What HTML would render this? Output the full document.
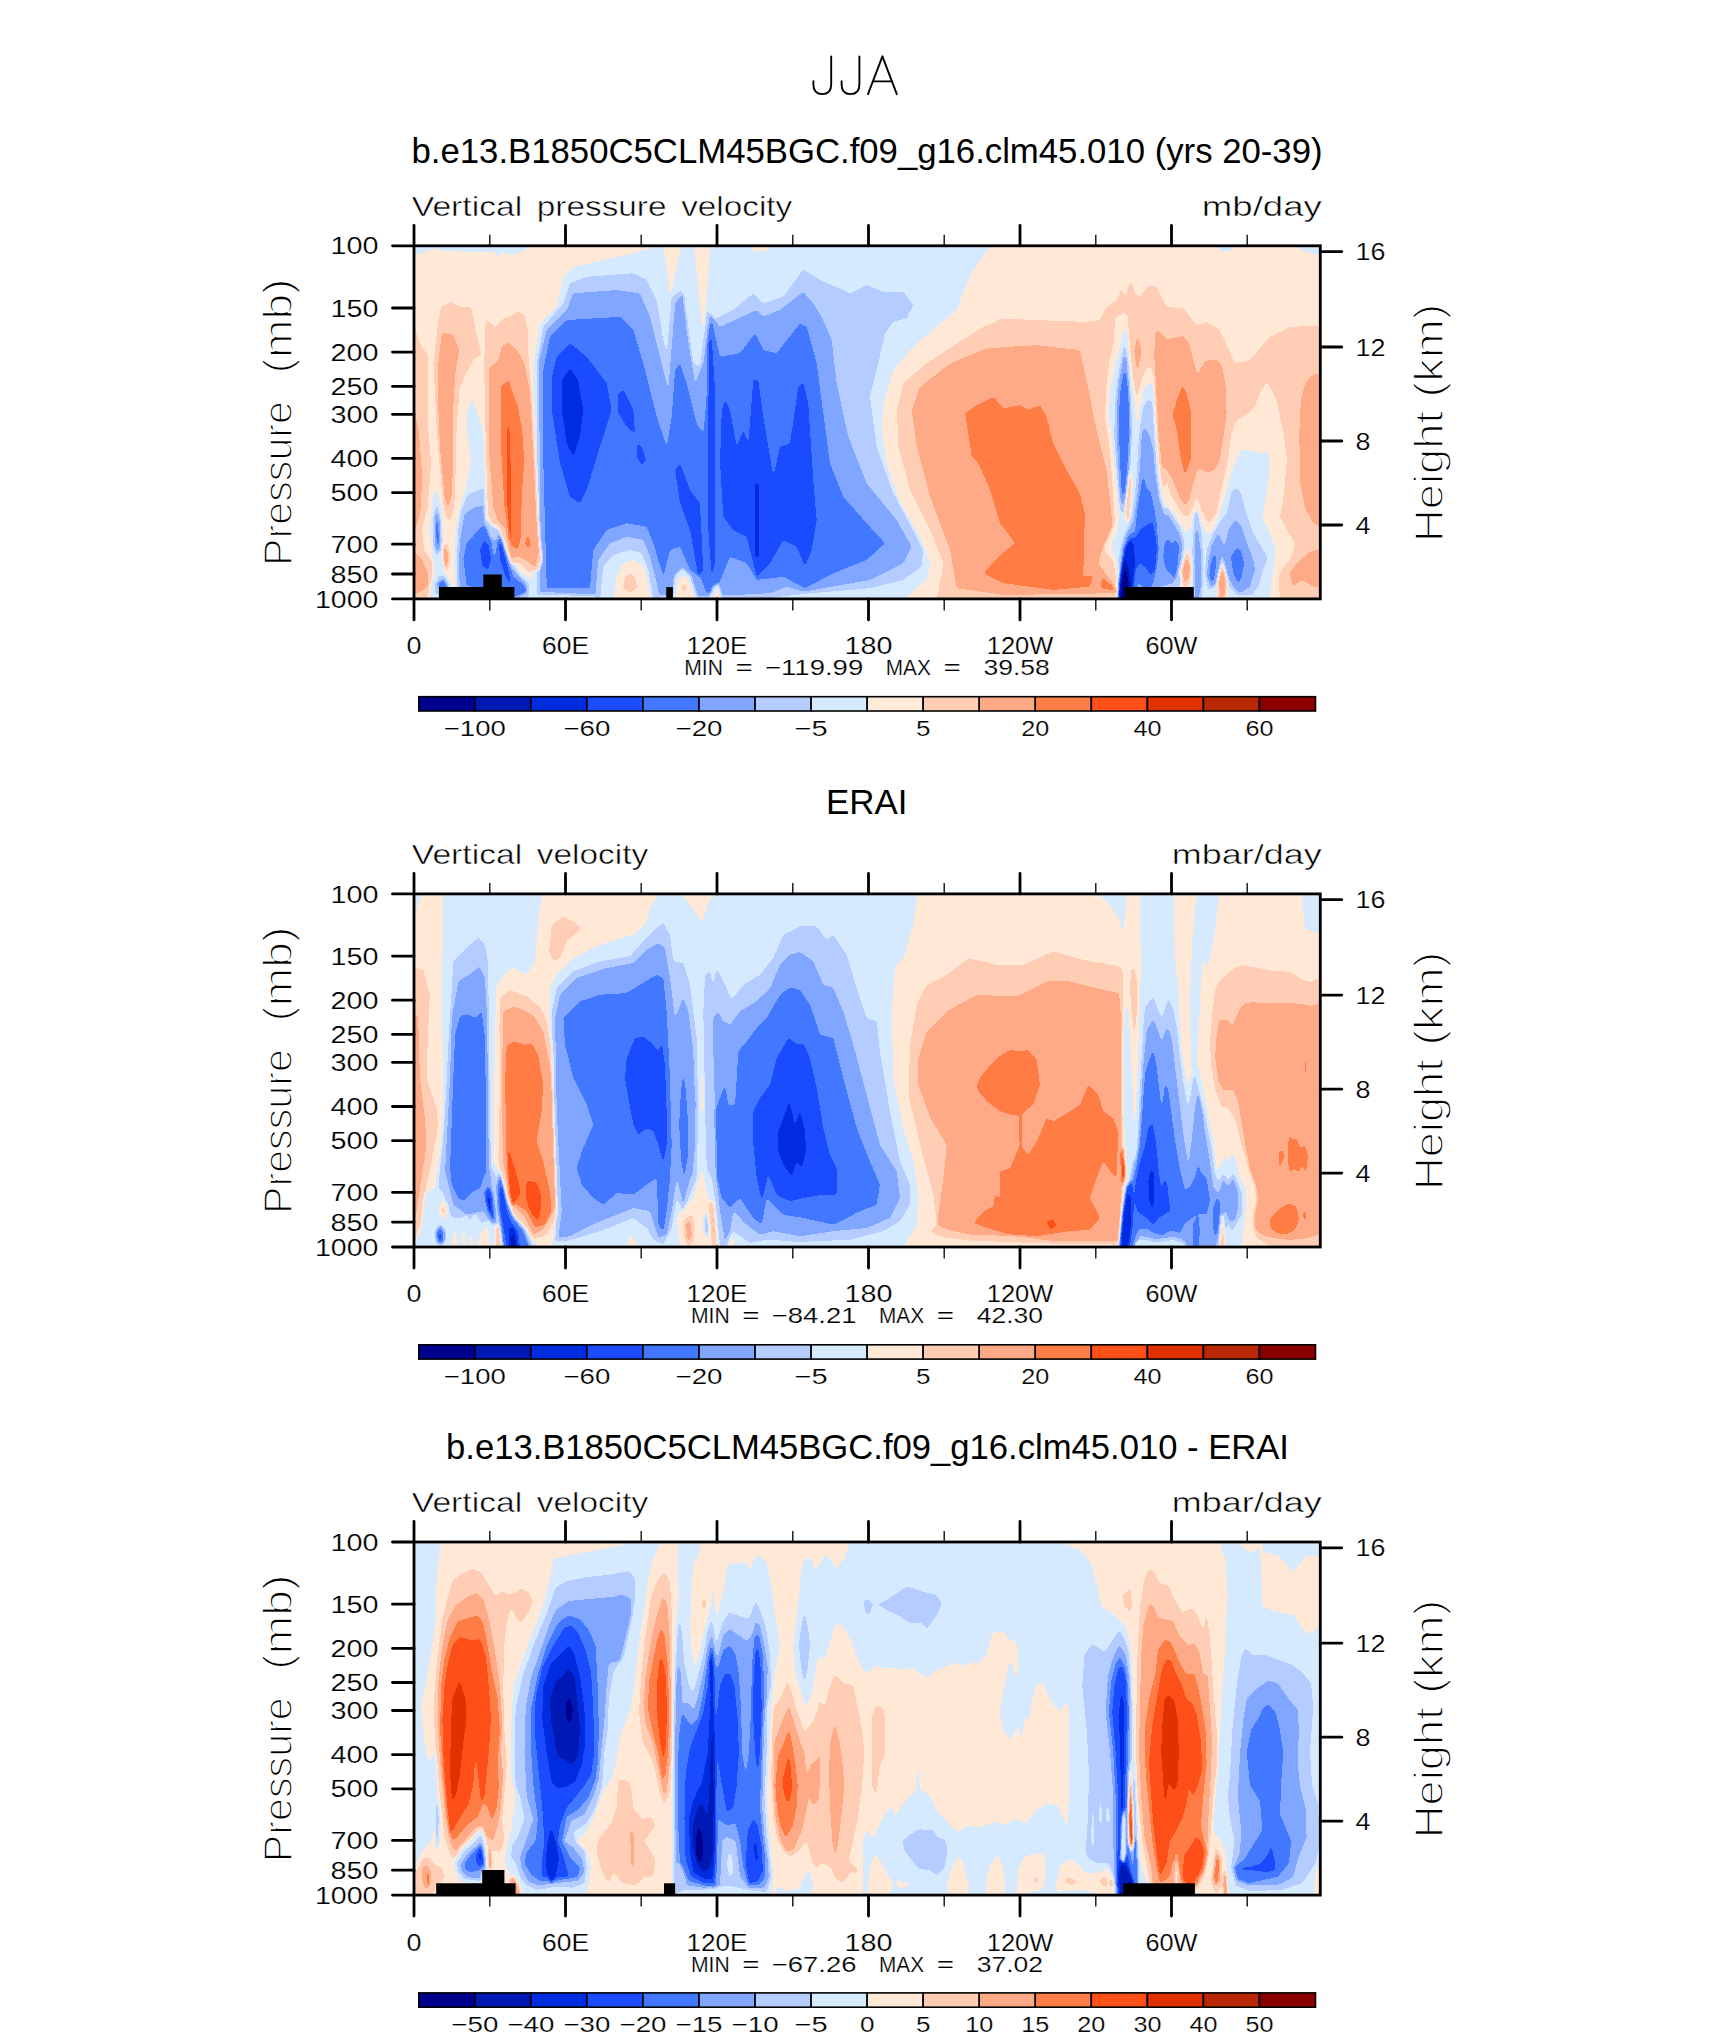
<!DOCTYPE html><html><head><meta charset="utf-8"><title>JJA</title><style>html,body{margin:0;padding:0;background:#fff}svg{display:block}</style></head><body>
<svg width="1710" height="2038" viewBox="0 0 1710 2038">
<rect width="1710" height="2038" fill="#fff"/>
<defs>
<clipPath id="clip0"><rect x="414.0" y="245.8" width="906.3" height="353.1"/></clipPath>
<clipPath id="clip1"><rect x="414.0" y="893.9" width="906.3" height="353.1"/></clipPath>
<clipPath id="clip2"><rect x="414.0" y="1542.0" width="906.3" height="353.1"/></clipPath>
<filter id="q0" filterUnits="userSpaceOnUse" x="374" y="206" width="986" height="433" color-interpolation-filters="sRGB"><feGaussianBlur stdDeviation="1.3"/><feComponentTransfer><feFuncR type="discrete" tableValues="0.0000 0.0000 0.0000 0.1098 0.2588 0.5098 0.7059 0.8392 1.0000 1.0000 1.0000 1.0000 1.0000 0.8784 0.7255 0.5490"/><feFuncG type="discrete" tableValues="0.0000 0.0980 0.1725 0.2980 0.4706 0.6510 0.8000 0.9176 0.9137 0.8039 0.6667 0.4902 0.3137 0.1961 0.1569 0.0000"/><feFuncB type="discrete" tableValues="0.5608 0.7059 0.8784 1.0000 1.0000 1.0000 1.0000 1.0000 0.8431 0.7059 0.5294 0.2745 0.0980 0.0000 0.0196 0.0000"/></feComponentTransfer><feGaussianBlur stdDeviation="0.45"/></filter><filter id="q1" filterUnits="userSpaceOnUse" x="374" y="854" width="986" height="433" color-interpolation-filters="sRGB"><feGaussianBlur stdDeviation="1.3"/><feComponentTransfer><feFuncR type="discrete" tableValues="0.0000 0.0000 0.0000 0.1098 0.2588 0.5098 0.7059 0.8392 1.0000 1.0000 1.0000 1.0000 1.0000 0.8784 0.7255 0.5490"/><feFuncG type="discrete" tableValues="0.0000 0.0980 0.1725 0.2980 0.4706 0.6510 0.8000 0.9176 0.9137 0.8039 0.6667 0.4902 0.3137 0.1961 0.1569 0.0000"/><feFuncB type="discrete" tableValues="0.5608 0.7059 0.8784 1.0000 1.0000 1.0000 1.0000 1.0000 0.8431 0.7059 0.5294 0.2745 0.0980 0.0000 0.0196 0.0000"/></feComponentTransfer><feGaussianBlur stdDeviation="0.45"/></filter><filter id="q2" filterUnits="userSpaceOnUse" x="374" y="1502" width="986" height="433" color-interpolation-filters="sRGB"><feGaussianBlur stdDeviation="1.3"/><feComponentTransfer><feFuncR type="discrete" tableValues="0.0000 0.0000 0.0000 0.1098 0.2588 0.5098 0.7059 0.8392 1.0000 1.0000 1.0000 1.0000 1.0000 0.8784 0.7255 0.5490"/><feFuncG type="discrete" tableValues="0.0000 0.0980 0.1725 0.2980 0.4706 0.6510 0.8000 0.9176 0.9137 0.8039 0.6667 0.4902 0.3137 0.1961 0.1569 0.0000"/><feFuncB type="discrete" tableValues="0.5608 0.7059 0.8784 1.0000 1.0000 1.0000 1.0000 1.0000 0.8431 0.7059 0.5294 0.2745 0.0980 0.0000 0.0196 0.0000"/></feComponentTransfer><feGaussianBlur stdDeviation="0.45"/></filter>
</defs>
<g fill="none" stroke="#000" stroke-width="1.9" stroke-linecap="round" stroke-linejoin="round"><path d="M831.2 56.5V84.5c0 6.3-3.3 9.6-8.9 9.6s-8.9-3.3-8.9-9.6v-3.3"/><path d="M859.4 56.5V84.5c0 6.3-3.3 9.6-8.9 9.6s-8.9-3.3-8.9-9.6v-3.3"/><path d="M868 94.2L882.4 56.3L896.8 94.2M873.2 81.4H891.6"/></g>
<text x="411.5" y="162.7" font-family="Liberation Sans, sans-serif" font-size="34.5" text-anchor="start" textLength="911.0" lengthAdjust="spacingAndGlyphs"  xml:space="preserve">b.e13.B1850C5CLM45BGC.f09_g16.clm45.010 (yrs 20-39)</text>
<text x="866.7" y="814.3" font-family="Liberation Sans, sans-serif" font-size="34.5" text-anchor="middle" textLength="81.5" lengthAdjust="spacingAndGlyphs"  xml:space="preserve">ERAI</text>
<text x="446.0" y="1459.0" font-family="Liberation Sans, sans-serif" font-size="34.5" text-anchor="start" textLength="843.0" lengthAdjust="spacingAndGlyphs"  xml:space="preserve">b.e13.B1850C5CLM45BGC.f09_g16.clm45.010 - ERAI</text>
<g clip-path="url(#clip0)"><g filter="url(#q0)">
<rect x="374.0" y="205.8" width="986.3" height="433.1" fill="#878787"/>
<path d="M531.7 600.0L532.7 463.3L533.3 363.3L540.0 323.3L556.7 306.7L563.3 276.7L573.3 266.7L633.3 253.3L666.7 243.3L800.0 243.3L993.3 243.3L980.0 260.0L970.0 276.7L961.7 296.7L956.7 310.0L936.7 326.7L916.7 343.3L893.3 370.0L883.3 403.3L881.7 430.0L886.7 463.3L900.0 503.3L920.0 536.7L930.0 563.3L926.7 580.0L910.0 593.3L906.7 600.0Z" fill="#787878"/>
<path d="M411.1 243.3L533.3 243.3L524.4 250.4L511.1 254.9L504.4 252.2L497.8 256.2L493.3 252.2L444.4 251.1L433.3 248.2L422.2 253.3L411.1 254.9Z" fill="#787878"/>
<path d="M662.7 243.3L682.3 243.3L676.0 270.0L670.7 296.7L666.7 270.0Z" fill="#878787"/>
<path d="M694.3 243.3L710.7 243.3L708.7 266.7L704.0 336.7L699.0 296.7L695.7 263.3Z" fill="#878787"/>
<path d="M750.0 243.3L773.3 243.3L766.7 250.7L753.3 252.0Z" fill="#878787"/>
<path d="M536.7 595.0L536.7 363.3L543.3 326.7L563.3 303.3L570.0 283.3L586.7 276.7L633.3 273.3L646.7 280.0L656.7 300.0L663.3 340.0L666.7 353.3L671.7 296.7L681.7 290.0L686.7 316.7L693.3 363.3L700.0 366.7L706.7 310.0L713.3 320.0L733.3 310.0L753.3 293.3L763.3 303.3L783.3 296.7L803.3 269.3L820.0 280.0L850.0 293.3L866.7 285.0L883.3 291.7L903.3 291.7L913.3 305.0L906.7 318.3L893.3 321.7L885.0 333.3L878.3 363.3L870.0 396.7L876.7 446.7L893.3 493.3L913.3 530.0L923.3 550.0L921.7 566.7L903.3 580.0L870.0 588.3L803.3 594.0L770.0 598.0Z" fill="#686868"/>
<path d="M540.0 591.7L540.0 463.3L538.3 363.3L546.7 330.0L566.7 310.0L573.3 293.3L616.7 290.0L640.0 293.3L650.0 316.7L663.3 370.0L668.3 390.0L675.0 303.3L683.3 293.3L686.7 330.0L695.0 383.3L703.3 363.3L710.0 313.3L720.0 326.7L756.7 310.0L763.3 316.7L780.0 310.0L803.3 291.7L813.3 303.3L823.3 320.0L831.7 340.0L836.7 383.3L848.3 436.7L866.7 483.3L896.7 520.0L911.7 546.7L903.3 563.3L870.0 580.0L803.3 591.7L786.7 586.7L770.0 593.3L716.7 596.0L700.0 596.7L666.7 595.0L600.0 595.0Z" fill="#585858"/>
<path d="M546.7 588.3L543.3 463.3L543.3 370.0L550.0 336.7L566.7 320.0L620.0 316.7L633.3 330.0L643.3 363.3L656.7 416.7L666.7 446.7L671.7 416.7L675.0 370.0L680.0 363.3L686.7 383.3L696.7 423.3L703.3 433.3L706.7 396.7L708.3 330.0L711.7 320.0L720.0 356.7L740.0 353.3L755.0 333.3L763.3 350.0L776.7 353.3L800.0 323.3L806.7 326.7L816.7 363.3L823.3 413.3L830.0 463.3L843.3 496.7L866.7 523.3L885.0 543.3L866.7 560.0L833.3 573.3L805.0 588.3L783.3 576.7L756.7 580.0L746.7 563.3L730.0 556.7L716.7 590.0L706.7 593.3L700.0 576.7L690.0 570.0L680.0 546.7L670.0 550.0L663.3 576.7L653.3 543.3L646.7 526.7L626.7 523.3L606.7 530.0L593.3 550.0L590.0 588.3Z" fill="#484848"/>
<path d="M556.7 356.7L570.0 343.3L586.7 356.7L606.7 383.3L611.7 410.0L600.0 446.7L586.7 490.0L580.0 503.3L570.0 496.7L560.0 463.3L551.7 410.0L551.7 376.7Z" fill="#383838"/>
<path d="M618.3 393.3L623.3 390.0L633.3 410.0L635.0 433.3L626.7 426.7L618.3 413.3Z" fill="#383838"/>
<path d="M636.7 443.3L641.7 446.7L646.0 460.0L641.7 465.0L636.7 456.7Z" fill="#383838"/>
<path d="M675.0 470.0L680.0 463.3L690.0 490.0L700.0 503.3L703.3 570.0L698.3 576.7L690.0 530.0L680.0 503.3Z" fill="#383838"/>
<path d="M708.3 343.3L711.7 336.7L715.0 390.0L715.0 563.3L711.7 576.7L708.3 530.0Z" fill="#383838"/>
<path d="M721.7 410.0L725.0 400.0L730.0 410.0L736.7 446.7L743.3 430.0L748.3 443.3L753.3 380.0L758.3 380.0L763.3 416.7L773.3 476.7L780.0 446.7L790.0 443.3L798.3 386.7L803.3 381.7L808.3 403.3L813.3 480.0L816.7 520.0L811.7 550.0L805.0 566.7L796.7 546.7L783.3 540.0L770.0 563.3L756.7 576.7L746.7 536.7L733.3 530.0L723.3 516.7L720.0 463.3Z" fill="#383838"/>
<path d="M561.7 380.0L570.0 368.3L578.3 380.0L583.3 410.0L580.0 436.7L573.3 456.7L566.7 443.3L561.7 410.0Z" fill="#282828"/>
<path d="M754.7 483.3L758.7 483.3L759.0 556.7L755.0 556.7Z" fill="#282828"/>
<path d="M595.0 600.0L598.3 560.0L610.0 543.3L626.7 536.7L643.3 540.0L650.0 556.7L656.7 583.3L660.0 600.0Z" fill="#686868"/>
<path d="M600.0 600.0L603.3 566.7L613.3 555.0L630.0 550.0L641.7 553.3L648.3 570.0L653.3 600.0Z" fill="#787878"/>
<path d="M613.3 600.0L616.7 576.7L623.3 563.3L633.3 560.0L643.3 566.7L648.3 583.3L650.0 600.0Z" fill="#878787"/>
<path d="M622.7 588.3L625.0 576.7L630.0 573.3L635.0 576.7L637.3 588.3L630.0 593.3Z" fill="#979797"/>
<path d="M672.2 601.1L674.4 576.7L682.2 567.8L691.1 576.7L696.7 594.4L698.9 601.1Z" fill="#787878"/>
<path d="M675.6 601.1L677.8 581.1L683.3 574.4L688.9 581.1L693.3 594.4L695.6 601.1Z" fill="#878787"/>
<path d="M681.1 585.6L684.4 583.3L686.7 588.9L683.3 592.2Z" fill="#979797"/>
<path d="M708.3 600.0L713.3 586.7L718.3 583.3L723.3 600.0Z" fill="#787878"/>
<path d="M712.7 600.0L715.3 590.7L718.3 589.3L720.7 600.0Z" fill="#878787"/>
<path d="M411.1 327.8L414.7 327.8L421.1 345.6L427.8 354.4L428.4 430.0L431.1 463.3L427.8 507.8L422.2 530.0L424.4 550.0L433.3 563.3L435.6 585.6L426.7 596.7L424.4 601.1L411.1 601.1Z" fill="#979797"/>
<path d="M411.1 412.2L414.7 412.2L418.9 430.0L422.2 474.4L421.1 507.8L417.8 523.3L414.7 530.0L411.1 530.0Z" fill="#a7a7a7"/>
<path d="M411.1 552.2L414.7 552.2L422.2 558.9L428.4 574.4L427.8 585.6L422.2 591.1L414.7 594.4L411.1 594.4Z" fill="#a7a7a7"/>
<path d="M441.1 306.7L451.1 301.6L460.0 306.7L471.1 306.7L476.7 334.4L481.8 354.4L474.4 358.9L466.7 372.2L459.6 390.0L456.7 430.0L455.6 474.4L454.4 507.8L450.0 521.1L445.6 516.7L443.3 505.6L436.7 430.0L433.3 363.3L437.8 323.3Z" fill="#979797"/>
<path d="M441.8 332.2L453.3 334.4L459.3 350.0L455.6 372.2L453.3 407.8L453.3 463.3L451.6 496.7L447.8 507.8L444.4 496.7L440.0 452.2L438.2 407.8L438.2 363.3Z" fill="#a7a7a7"/>
<path d="M442.2 545.6L447.8 543.3L450.7 558.9L446.7 572.2L441.1 561.1Z" fill="#979797"/>
<path d="M443.3 550.0L446.7 547.8L448.9 558.9L445.6 567.8L442.2 558.9Z" fill="#a7a7a7"/>
<path d="M432.9 496.7L436.7 487.8L441.6 507.8L443.1 541.1L439.6 565.6L432.9 561.1L430.2 530.0Z" fill="#787878"/>
<path d="M433.8 512.2L437.3 504.4L441.3 523.3L441.3 550.0L437.8 558.9L433.3 545.6Z" fill="#686868"/>
<path d="M434.7 516.7L437.8 511.1L440.2 525.6L440.2 547.8L436.9 553.3L434.2 541.1Z" fill="#585858"/>
<path d="M435.8 523.3L438.2 520.0L439.3 543.3L436.7 546.7Z" fill="#484848"/>
<path d="M433.3 556.7L442.2 550.0L444.4 572.2L450.7 583.3L452.2 594.4L450.0 601.1L430.0 601.1L430.0 585.6L433.3 576.7Z" fill="#787878"/>
<path d="M434.4 585.6L438.9 575.6L446.2 576.7L450.7 590.0L445.6 595.6L435.6 594.4Z" fill="#686868"/>
<path d="M437.3 583.8L443.6 579.3L448.0 587.8L441.3 592.7Z" fill="#484848"/>
<path d="M473.3 398.9L477.8 414.4L483.3 430.0L484.9 474.4L485.6 518.9L491.1 525.6L497.8 527.8L504.4 541.1L511.1 558.9L520.0 572.2L528.9 576.7L533.3 585.6L531.1 601.1L455.6 601.1L454.4 563.3L455.6 530.0L460.0 507.8L466.7 485.6L471.1 461.1L466.7 430.0L466.7 412.2Z" fill="#787878"/>
<path d="M467.8 494.4L473.3 492.2L484.4 487.8L485.6 518.9L493.3 527.8L500.0 530.0L506.7 552.2L520.0 576.7L528.9 583.3L528.9 594.4L526.7 601.1L457.8 601.1L456.7 563.3L458.2 530.0L461.1 510.0Z" fill="#686868"/>
<path d="M464.4 514.4L473.3 507.8L483.3 505.6L484.4 523.3L488.9 536.7L495.6 541.1L498.9 532.2L504.4 550.0L511.1 567.8L524.4 581.1L527.8 590.0L520.0 596.7L460.0 596.7L458.9 563.3L460.0 541.1Z" fill="#585858"/>
<path d="M466.7 543.3L480.0 527.8L485.6 525.6L491.1 541.1L494.4 558.9L497.8 541.1L501.1 536.7L506.7 556.7L513.3 576.7L524.4 585.6L526.7 592.2L515.6 596.7L466.7 585.6L463.3 558.9Z" fill="#484848"/>
<path d="M480.0 550.0L484.4 540.0L488.9 545.6L491.1 558.9L487.8 570.0L482.2 565.6Z" fill="#383838"/>
<path d="M498.9 541.1L502.2 545.6L508.9 572.2L511.1 585.6L505.6 576.7L500.0 558.9Z" fill="#383838"/>
<path d="M485.6 318.9L495.6 327.8L502.2 318.9L511.1 315.6L517.8 311.1L524.4 314.4L527.8 330.0L528.9 363.3L533.3 407.8L536.7 474.4L538.9 530.0L542.2 558.9L538.9 570.0L528.9 572.2L520.0 563.3L511.1 563.3L502.2 536.7L497.8 525.6L492.2 523.3L487.8 514.4L485.6 452.2L484.0 363.3Z" fill="#979797"/>
<path d="M488.9 367.8L497.8 361.1L502.2 345.6L508.9 342.2L517.8 351.1L524.4 363.3L530.0 390.0L533.3 452.2L536.7 518.9L538.9 552.2L535.6 567.8L526.7 561.1L517.8 556.7L511.1 558.9L504.4 527.8L497.8 521.1L493.3 507.8L488.9 452.2Z" fill="#a7a7a7"/>
<path d="M501.1 385.6L508.9 380.0L513.3 394.4L517.8 405.6L522.2 430.0L524.4 461.1L521.8 496.7L521.1 536.7L517.8 550.0L511.1 545.6L508.9 530.0L504.4 507.8L501.1 452.2Z" fill="#b7b7b7"/>
<path d="M507.1 430.0L509.3 418.9L511.1 474.4L511.6 541.1L508.9 538.9L506.9 496.7Z" fill="#c7c7c7"/>
<path d="M527.8 533.3L531.1 545.6L527.8 547.8L524.9 543.3Z" fill="#b7b7b7"/>
<path d="M936.7 600.0L943.3 563.3L930.0 530.0L910.0 490.0L898.3 446.7L896.7 410.0L903.3 383.3L926.7 363.3L956.7 343.3L983.3 326.7L1003.3 318.3L1036.7 320.0L1086.7 321.7L1100.0 320.0L1106.7 306.7L1116.7 300.0L1121.7 288.3L1125.0 296.7L1131.0 280.0L1135.0 293.3L1140.0 296.7L1148.3 285.0L1156.7 286.7L1166.7 306.7L1183.3 308.3L1196.7 325.0L1206.7 321.7L1220.0 330.0L1235.0 363.3L1250.0 360.0L1270.0 336.7L1290.0 326.7L1336.7 325.0L1336.7 600.0Z" fill="#979797"/>
<path d="M956.7 588.3L950.0 550.0L930.0 496.7L916.7 446.7L911.7 410.0L920.0 386.7L950.0 363.3L986.7 348.3L1036.7 345.0L1080.0 350.0L1086.7 380.0L1096.7 430.0L1106.7 470.0L1113.3 530.0L1103.3 546.7L1098.3 563.3L1116.7 588.3L1116.7 593.3L1003.3 595.0Z" fill="#a7a7a7"/>
<path d="M1155.0 333.3L1158.3 330.0L1166.7 339.2L1183.3 335.8L1189.2 343.3L1193.3 360.0L1197.5 374.2L1205.0 360.8L1216.7 359.2L1222.5 366.7L1225.8 386.7L1226.7 413.3L1224.2 433.3L1220.0 458.3L1215.0 470.0L1206.7 472.5L1198.3 468.3L1193.3 483.3L1189.2 500.0L1185.0 505.8L1180.0 498.3L1173.3 481.7L1166.7 470.0L1161.7 466.7L1158.3 433.3L1155.8 393.3L1154.2 355.0Z" fill="#a7a7a7"/>
<path d="M1326.7 372.5L1311.7 375.0L1305.0 383.3L1300.8 400.0L1299.2 433.3L1300.0 483.3L1305.0 508.3L1313.3 523.3L1326.7 530.0Z" fill="#a7a7a7"/>
<path d="M1326.7 546.7L1310.0 551.7L1296.7 563.3L1289.2 573.3L1293.3 586.7L1301.7 580.0L1313.3 586.7L1326.7 588.3Z" fill="#a7a7a7"/>
<path d="M965.0 413.3L976.7 405.0L993.3 396.7L1003.3 408.3L1020.0 405.0L1028.3 410.0L1040.0 405.0L1046.7 416.7L1053.3 443.3L1066.7 470.0L1080.0 493.3L1085.0 513.3L1083.3 576.7L1093.3 575.0L1090.0 586.7L1053.3 590.0L1003.3 583.3L983.3 573.3L1000.0 555.0L1015.0 543.3L1000.0 523.3L990.0 490.0L978.3 463.3L971.7 456.7Z" fill="#b7b7b7"/>
<path d="M1182.5 385.0L1186.7 393.3L1190.8 410.0L1190.8 460.0L1185.0 475.0L1180.0 455.0L1176.7 430.0L1172.5 415.0L1176.7 400.0Z" fill="#b7b7b7"/>
<path d="M1101.7 576.7L1113.3 586.7L1113.3 590.8L1100.8 588.3Z" fill="#b7b7b7"/>
<path d="M1137.5 334.2L1141.7 351.7L1137.5 373.3L1134.2 351.7Z" fill="#a7a7a7"/>
<path d="M1117.5 600.0L1115.8 575.0L1113.3 560.0L1105.8 553.3L1105.0 545.0L1110.0 533.3L1115.0 521.7L1112.5 483.3L1110.0 450.0L1105.0 416.7L1106.7 383.3L1110.0 358.3L1114.2 341.7L1115.0 318.3L1124.2 312.5L1127.8 316.7L1129.7 350.0L1133.3 380.0L1136.7 398.3L1140.8 383.3L1145.8 369.2L1150.8 366.7L1154.2 378.3L1156.7 433.3L1160.0 475.0L1163.3 490.0L1166.7 481.7L1170.0 493.3L1176.7 505.0L1183.3 515.0L1188.3 516.7L1193.3 506.7L1196.7 496.7L1200.8 508.3L1205.0 518.3L1210.0 523.3L1216.7 513.3L1220.8 491.7L1226.7 466.7L1231.7 433.3L1236.7 420.0L1248.3 413.3L1255.0 406.7L1260.0 393.3L1266.7 381.7L1276.7 400.0L1283.3 433.3L1286.7 458.3L1284.2 491.7L1280.0 516.7L1286.7 530.0L1295.0 543.3L1291.7 556.7L1283.3 566.7L1278.3 576.7L1280.0 600.0Z" fill="#878787"/>
<path d="M1117.5 600.0L1117.5 575.0L1115.8 560.0L1112.5 550.0L1111.7 541.7L1116.7 533.3L1119.2 516.7L1116.7 483.3L1113.3 450.0L1109.2 416.7L1110.0 390.0L1115.0 366.7L1119.2 350.0L1124.2 327.5L1127.5 333.3L1130.0 366.7L1133.3 393.3L1135.8 416.7L1137.5 426.7L1140.0 408.3L1144.2 388.3L1150.0 382.5L1153.3 386.7L1155.0 416.7L1158.3 466.7L1161.7 496.7L1165.0 506.7L1170.0 510.0L1175.0 515.0L1180.0 523.3L1186.7 533.3L1191.7 525.0L1194.2 511.7L1197.5 511.7L1201.7 523.3L1206.7 533.3L1211.7 533.3L1218.3 516.7L1225.0 496.7L1233.3 466.7L1240.8 450.0L1251.7 450.8L1260.0 453.3L1266.7 451.7L1269.2 456.7L1268.3 483.3L1262.5 520.0L1270.0 533.3L1275.8 550.0L1272.5 575.0L1269.2 600.0Z" fill="#787878"/>
<path d="M1130.0 468.3L1131.7 483.3L1129.2 516.7L1126.7 526.7L1125.8 508.3L1127.5 483.3Z" fill="#9e9e9e"/>
<path d="M1115.0 403.3L1117.5 380.0L1124.2 343.3L1127.5 355.0L1130.0 393.3L1131.7 433.3L1130.0 466.7L1126.7 496.7L1124.2 513.3L1120.0 510.0L1116.7 475.0L1114.2 436.7Z" fill="#686868"/>
<path d="M1140.0 426.7L1143.3 406.7L1148.3 399.2L1152.5 403.3L1154.2 433.3L1156.7 466.7L1160.0 496.7L1164.2 508.3L1168.3 506.7L1173.3 516.7L1180.0 526.7L1184.2 541.7L1182.5 560.0L1180.0 583.3L1176.7 600.0L1118.3 600.0L1119.2 575.0L1118.3 560.0L1121.7 541.7L1125.8 531.7L1131.7 516.7L1134.2 500.0L1136.7 475.0L1138.3 446.7Z" fill="#686868"/>
<path d="M1194.2 513.3L1197.5 510.8L1201.7 533.3L1203.3 566.7L1201.7 600.0L1193.3 600.0L1192.5 550.0Z" fill="#686868"/>
<path d="M1206.7 550.0L1213.3 533.3L1220.0 521.7L1226.7 513.3L1231.7 491.7L1236.7 487.5L1241.7 495.0L1246.7 515.0L1253.3 533.3L1263.3 550.0L1267.5 558.3L1263.3 570.0L1258.3 586.7L1251.7 595.0L1236.7 595.0L1226.7 583.3L1224.2 566.7L1221.7 563.3L1218.3 575.0L1215.0 586.7L1208.3 590.0L1205.0 575.0Z" fill="#686868"/>
<path d="M1116.7 406.7L1119.2 380.0L1124.2 353.3L1127.5 363.3L1130.0 400.0L1130.8 433.3L1129.2 466.7L1125.8 496.7L1122.5 506.7L1120.0 496.7L1117.5 450.0Z" fill="#585858"/>
<path d="M1141.7 433.3L1145.0 426.7L1150.0 436.7L1153.3 450.0L1155.8 475.0L1159.2 500.0L1164.2 515.0L1168.3 515.0L1173.3 523.3L1179.2 533.3L1182.5 545.0L1180.8 560.0L1176.7 575.0L1173.3 583.3L1160.0 586.7L1153.3 600.0L1119.2 600.0L1120.8 566.7L1122.5 546.7L1126.7 533.3L1133.3 521.7L1135.8 506.7L1137.5 493.3L1140.0 466.7Z" fill="#585858"/>
<path d="M1195.0 533.3L1197.5 528.3L1200.8 550.0L1201.7 583.3L1198.3 600.0L1195.0 600.0L1194.2 566.7Z" fill="#585858"/>
<path d="M1208.3 560.0L1211.7 545.0L1218.3 533.3L1221.7 540.0L1224.2 546.7L1228.3 530.0L1235.0 520.0L1240.8 525.0L1246.7 541.7L1253.3 560.0L1255.0 570.0L1250.0 586.7L1240.0 593.3L1233.3 586.7L1226.7 573.3L1224.2 560.0L1221.7 555.0L1219.2 566.7L1216.7 583.3L1210.8 586.7L1206.7 575.0Z" fill="#585858"/>
<path d="M1119.2 408.3L1120.8 386.7L1124.2 370.0L1127.5 380.0L1129.2 406.7L1129.2 433.3L1127.5 466.7L1125.0 491.7L1122.5 496.7L1120.8 483.3L1119.2 441.7Z" fill="#484848"/>
<path d="M1140.0 491.7L1143.3 475.0L1146.7 488.3L1150.8 491.7L1154.2 508.3L1156.7 523.3L1158.3 546.7L1156.7 566.7L1153.3 583.3L1148.3 590.0L1138.3 583.3L1133.3 600.0L1120.0 600.0L1121.7 566.7L1124.2 550.0L1128.3 535.0L1135.0 531.7L1137.5 508.3Z" fill="#484848"/>
<path d="M1164.2 545.0L1167.5 538.3L1171.7 544.2L1175.8 540.0L1179.2 546.7L1177.5 566.7L1175.0 578.3L1169.2 573.3L1165.0 566.7L1163.3 556.7Z" fill="#484848"/>
<path d="M1210.0 566.7L1213.3 555.0L1216.7 556.7L1215.0 575.0L1212.5 583.3L1209.2 576.7Z" fill="#484848"/>
<path d="M1230.8 556.7L1237.5 546.7L1241.7 553.3L1244.2 563.3L1241.7 576.7L1238.3 583.3L1233.3 573.3Z" fill="#484848"/>
<path d="M1135.0 538.3L1140.0 530.0L1146.7 525.0L1152.5 521.7L1155.8 536.7L1157.5 550.0L1155.0 570.0L1150.8 575.0L1145.0 566.7L1140.0 563.3L1135.0 570.0L1133.3 583.3L1131.7 600.0L1120.8 600.0L1122.5 566.7L1125.8 550.0L1130.0 538.3Z" fill="#383838"/>
<path d="M1121.7 566.7L1125.0 546.7L1130.0 540.0L1134.2 545.0L1135.0 566.7L1133.3 583.3L1131.7 600.0L1118.3 600.0L1119.2 583.3Z" fill="#282828"/>
<path d="M1120.8 573.3L1124.2 556.7L1128.3 566.7L1130.8 583.3L1131.7 600.0L1118.3 600.0L1119.2 583.3Z" fill="#181818"/>
<path d="M1122.5 580.0L1125.0 566.7L1128.3 580.0L1130.0 600.0L1120.8 600.0Z" fill="#080808"/>
<path d="M1187.5 548.3L1192.5 566.7L1190.0 586.7L1182.5 590.0L1180.0 570.0Z" fill="#979797"/>
<path d="M1186.7 556.7L1190.0 566.7L1188.3 580.0L1184.2 583.3L1182.5 570.0Z" fill="#a7a7a7"/>
<path d="M1222.5 561.7L1227.5 580.0L1226.7 600.0L1217.5 600.0L1217.5 580.0Z" fill="#979797"/>
<path d="M1222.5 566.7L1225.8 580.0L1225.0 593.3L1220.8 600.0L1218.3 583.3Z" fill="#a7a7a7"/>
<path d="M1213.3 243.3L1236.7 243.3L1231.7 250.7L1220.0 251.3Z" fill="#787878"/>
<path d="M1290.0 243.3L1336.7 243.3L1336.7 256.7L1316.7 255.0L1303.3 250.7Z" fill="#787878"/>
</g>
<path d="M438.9 587.1L483.3 587.1L483.3 574.4L501.8 574.4L501.8 587.1L514.4 587.1L514.4 598.9L438.9 598.9Z" fill="#000"/>
<path d="M666.2 587.1L672.9 587.1L672.9 598.9L666.2 598.9Z" fill="#000"/>
<path d="M1124.7 587.0L1193.8 587.0L1193.8 599.2L1124.7 599.2Z" fill="#000"/></g>
<rect x="414.0" y="245.8" width="906.3" height="353.1" fill="none" stroke="#000" stroke-width="2.8"/>
<path d="M414.0 245.8v-20.5M414.0 598.9v21" stroke="#000" stroke-width="2.8" stroke-linecap="round" fill="none"/>
<path d="M489.8 245.8v-11M489.8 598.9v11.5" stroke="#000" stroke-width="1.3" fill="none"/>
<path d="M565.5 245.8v-20.5M565.5 598.9v21" stroke="#000" stroke-width="2.8" stroke-linecap="round" fill="none"/>
<path d="M641.2 245.8v-11M641.2 598.9v11.5" stroke="#000" stroke-width="1.3" fill="none"/>
<path d="M717.0 245.8v-20.5M717.0 598.9v21" stroke="#000" stroke-width="2.8" stroke-linecap="round" fill="none"/>
<path d="M792.8 245.8v-11M792.8 598.9v11.5" stroke="#000" stroke-width="1.3" fill="none"/>
<path d="M868.5 245.8v-20.5M868.5 598.9v21" stroke="#000" stroke-width="2.8" stroke-linecap="round" fill="none"/>
<path d="M944.2 245.8v-11M944.2 598.9v11.5" stroke="#000" stroke-width="1.3" fill="none"/>
<path d="M1020.0 245.8v-20.5M1020.0 598.9v21" stroke="#000" stroke-width="2.8" stroke-linecap="round" fill="none"/>
<path d="M1095.8 245.8v-11M1095.8 598.9v11.5" stroke="#000" stroke-width="1.3" fill="none"/>
<path d="M1171.5 245.8v-20.5M1171.5 598.9v21" stroke="#000" stroke-width="2.8" stroke-linecap="round" fill="none"/>
<path d="M1247.2 245.8v-11M1247.2 598.9v11.5" stroke="#000" stroke-width="1.3" fill="none"/>
<path d="M414.0 245.8h-21.5" stroke="#000" stroke-width="2.8" stroke-linecap="round" fill="none"/>
<text x="378.5" y="254.4" font-family="Liberation Sans, sans-serif" font-size="23.3" text-anchor="end" textLength="48.0" lengthAdjust="spacingAndGlyphs" stroke="#fff" stroke-width="0.20" paint-order="fill stroke"  xml:space="preserve">100</text>
<path d="M414.0 308.0h-21.5" stroke="#000" stroke-width="2.8" stroke-linecap="round" fill="none"/>
<text x="378.5" y="316.6" font-family="Liberation Sans, sans-serif" font-size="23.3" text-anchor="end" textLength="48.0" lengthAdjust="spacingAndGlyphs" stroke="#fff" stroke-width="0.20" paint-order="fill stroke"  xml:space="preserve">150</text>
<path d="M414.0 352.1h-21.5" stroke="#000" stroke-width="2.8" stroke-linecap="round" fill="none"/>
<text x="378.5" y="360.7" font-family="Liberation Sans, sans-serif" font-size="23.3" text-anchor="end" textLength="48.0" lengthAdjust="spacingAndGlyphs" stroke="#fff" stroke-width="0.20" paint-order="fill stroke"  xml:space="preserve">200</text>
<path d="M414.0 386.3h-21.5" stroke="#000" stroke-width="2.8" stroke-linecap="round" fill="none"/>
<text x="378.5" y="394.9" font-family="Liberation Sans, sans-serif" font-size="23.3" text-anchor="end" textLength="48.0" lengthAdjust="spacingAndGlyphs" stroke="#fff" stroke-width="0.20" paint-order="fill stroke"  xml:space="preserve">250</text>
<path d="M414.0 414.3h-21.5" stroke="#000" stroke-width="2.8" stroke-linecap="round" fill="none"/>
<text x="378.5" y="422.9" font-family="Liberation Sans, sans-serif" font-size="23.3" text-anchor="end" textLength="48.0" lengthAdjust="spacingAndGlyphs" stroke="#fff" stroke-width="0.20" paint-order="fill stroke"  xml:space="preserve">300</text>
<path d="M414.0 458.4h-21.5" stroke="#000" stroke-width="2.8" stroke-linecap="round" fill="none"/>
<text x="378.5" y="467.0" font-family="Liberation Sans, sans-serif" font-size="23.3" text-anchor="end" textLength="48.0" lengthAdjust="spacingAndGlyphs" stroke="#fff" stroke-width="0.20" paint-order="fill stroke"  xml:space="preserve">400</text>
<path d="M414.0 492.6h-21.5" stroke="#000" stroke-width="2.8" stroke-linecap="round" fill="none"/>
<text x="378.5" y="501.2" font-family="Liberation Sans, sans-serif" font-size="23.3" text-anchor="end" textLength="48.0" lengthAdjust="spacingAndGlyphs" stroke="#fff" stroke-width="0.20" paint-order="fill stroke"  xml:space="preserve">500</text>
<path d="M414.0 544.2h-21.5" stroke="#000" stroke-width="2.8" stroke-linecap="round" fill="none"/>
<text x="378.5" y="552.8" font-family="Liberation Sans, sans-serif" font-size="23.3" text-anchor="end" textLength="48.0" lengthAdjust="spacingAndGlyphs" stroke="#fff" stroke-width="0.20" paint-order="fill stroke"  xml:space="preserve">700</text>
<path d="M414.0 574.0h-21.5" stroke="#000" stroke-width="2.8" stroke-linecap="round" fill="none"/>
<text x="378.5" y="582.6" font-family="Liberation Sans, sans-serif" font-size="23.3" text-anchor="end" textLength="48.0" lengthAdjust="spacingAndGlyphs" stroke="#fff" stroke-width="0.20" paint-order="fill stroke"  xml:space="preserve">850</text>
<path d="M414.0 598.9h-21.5" stroke="#000" stroke-width="2.8" stroke-linecap="round" fill="none"/>
<text x="378.5" y="607.5" font-family="Liberation Sans, sans-serif" font-size="23.3" text-anchor="end" textLength="63.5" lengthAdjust="spacingAndGlyphs" stroke="#fff" stroke-width="0.20" paint-order="fill stroke"  xml:space="preserve">1000</text>
<path d="M1320.3 251.6h21.5" stroke="#000" stroke-width="2.8" stroke-linecap="round" fill="none"/>
<text x="1355.5" y="260.2" font-family="Liberation Sans, sans-serif" font-size="23.3" text-anchor="start" textLength="30.0" lengthAdjust="spacingAndGlyphs" stroke="#fff" stroke-width="0.20" paint-order="fill stroke"  xml:space="preserve">16</text>
<path d="M1320.3 347.0h21.5" stroke="#000" stroke-width="2.8" stroke-linecap="round" fill="none"/>
<text x="1355.5" y="355.6" font-family="Liberation Sans, sans-serif" font-size="23.3" text-anchor="start" textLength="30.0" lengthAdjust="spacingAndGlyphs" stroke="#fff" stroke-width="0.20" paint-order="fill stroke"  xml:space="preserve">12</text>
<path d="M1320.3 441.0h21.5" stroke="#000" stroke-width="2.8" stroke-linecap="round" fill="none"/>
<text x="1355.5" y="449.6" font-family="Liberation Sans, sans-serif" font-size="23.3" text-anchor="start" textLength="15.0" lengthAdjust="spacingAndGlyphs" stroke="#fff" stroke-width="0.20" paint-order="fill stroke"  xml:space="preserve">8</text>
<path d="M1320.3 525.0h21.5" stroke="#000" stroke-width="2.8" stroke-linecap="round" fill="none"/>
<text x="1355.5" y="533.6" font-family="Liberation Sans, sans-serif" font-size="23.3" text-anchor="start" textLength="15.0" lengthAdjust="spacingAndGlyphs" stroke="#fff" stroke-width="0.20" paint-order="fill stroke"  xml:space="preserve">4</text>
<text x="414.0" y="654.3" font-family="Liberation Sans, sans-serif" font-size="24.0" text-anchor="middle" textLength="15.0" lengthAdjust="spacingAndGlyphs" stroke="#fff" stroke-width="0.20" paint-order="fill stroke"  xml:space="preserve">0</text>
<text x="565.5" y="654.3" font-family="Liberation Sans, sans-serif" font-size="24.0" text-anchor="middle" textLength="47.0" lengthAdjust="spacingAndGlyphs" stroke="#fff" stroke-width="0.20" paint-order="fill stroke"  xml:space="preserve">60E</text>
<text x="717.0" y="654.3" font-family="Liberation Sans, sans-serif" font-size="24.0" text-anchor="middle" textLength="61.0" lengthAdjust="spacingAndGlyphs" stroke="#fff" stroke-width="0.20" paint-order="fill stroke"  xml:space="preserve">120E</text>
<text x="868.5" y="654.3" font-family="Liberation Sans, sans-serif" font-size="24.0" text-anchor="middle" textLength="48.0" lengthAdjust="spacingAndGlyphs" stroke="#fff" stroke-width="0.20" paint-order="fill stroke"  xml:space="preserve">180</text>
<text x="1020.0" y="654.3" font-family="Liberation Sans, sans-serif" font-size="24.0" text-anchor="middle" textLength="66.5" lengthAdjust="spacingAndGlyphs" stroke="#fff" stroke-width="0.20" paint-order="fill stroke"  xml:space="preserve">120W</text>
<text x="1171.5" y="654.3" font-family="Liberation Sans, sans-serif" font-size="24.0" text-anchor="middle" textLength="52.0" lengthAdjust="spacingAndGlyphs" stroke="#fff" stroke-width="0.20" paint-order="fill stroke"  xml:space="preserve">60W</text>
<text x="411.8" y="215.7" font-family="Liberation Sans, sans-serif" font-size="28.0" text-anchor="start" textLength="110.4" lengthAdjust="spacingAndGlyphs" stroke="#fff" stroke-width="0.50" paint-order="fill stroke"  xml:space="preserve">Vertical</text>
<text x="536.8" y="215.7" font-family="Liberation Sans, sans-serif" font-size="28.0" text-anchor="start" textLength="129.7" lengthAdjust="spacingAndGlyphs" stroke="#fff" stroke-width="0.50" paint-order="fill stroke"  xml:space="preserve">pressure</text>
<text x="681.2" y="215.7" font-family="Liberation Sans, sans-serif" font-size="28.0" text-anchor="start" textLength="111.0" lengthAdjust="spacingAndGlyphs" stroke="#fff" stroke-width="0.50" paint-order="fill stroke"  xml:space="preserve">velocity</text>
<text x="1321.8" y="215.7" font-family="Liberation Sans, sans-serif" font-size="28.0" text-anchor="end" textLength="120.0" lengthAdjust="spacingAndGlyphs" stroke="#fff" stroke-width="0.50" paint-order="fill stroke"  xml:space="preserve">mb/day</text>
<g transform="translate(292,422.0) rotate(-90)"><text x="-144.0" y="0.0" font-family="Liberation Sans, sans-serif" font-size="40.0" text-anchor="start" textLength="165.0" lengthAdjust="spacingAndGlyphs" stroke="#fff" stroke-width="1.50" paint-order="fill stroke"  xml:space="preserve">Pressure</text><text x="48.5" y="0.0" font-family="Liberation Sans, sans-serif" font-size="40.0" text-anchor="start" textLength="95.0" lengthAdjust="spacingAndGlyphs" stroke="#fff" stroke-width="1.50" paint-order="fill stroke"  xml:space="preserve">(mb)</text></g>
<g transform="translate(1443,422.0) rotate(-90)"><text x="-120.0" y="0.0" font-family="Liberation Sans, sans-serif" font-size="40.0" text-anchor="start" textLength="131.0" lengthAdjust="spacingAndGlyphs" stroke="#fff" stroke-width="1.50" paint-order="fill stroke"  xml:space="preserve">Height</text><text x="24.5" y="0.0" font-family="Liberation Sans, sans-serif" font-size="40.0" text-anchor="start" textLength="94.0" lengthAdjust="spacingAndGlyphs" stroke="#fff" stroke-width="1.50" paint-order="fill stroke"  xml:space="preserve">(km)</text></g>
<text x="684.2" y="675.3" font-family="Liberation Sans, sans-serif" font-size="22.3" text-anchor="start" textLength="38.7" lengthAdjust="spacingAndGlyphs" stroke="#fff" stroke-width="0.20" paint-order="fill stroke"  xml:space="preserve">MIN</text>
<text x="735.5" y="675.3" font-family="Liberation Sans, sans-serif" font-size="22.3" text-anchor="start" textLength="17.3" lengthAdjust="spacingAndGlyphs" stroke="#fff" stroke-width="0.20" paint-order="fill stroke"  xml:space="preserve">=</text>
<text x="765.0" y="675.3" font-family="Liberation Sans, sans-serif" font-size="22.3" text-anchor="start" textLength="98.2" lengthAdjust="spacingAndGlyphs" stroke="#fff" stroke-width="0.20" paint-order="fill stroke"  xml:space="preserve">−119.99</text>
<text x="885.8" y="675.3" font-family="Liberation Sans, sans-serif" font-size="22.3" text-anchor="start" textLength="45.0" lengthAdjust="spacingAndGlyphs" stroke="#fff" stroke-width="0.20" paint-order="fill stroke"  xml:space="preserve">MAX</text>
<text x="943.5" y="675.3" font-family="Liberation Sans, sans-serif" font-size="22.3" text-anchor="start" textLength="17.3" lengthAdjust="spacingAndGlyphs" stroke="#fff" stroke-width="0.20" paint-order="fill stroke"  xml:space="preserve">=</text>
<text x="983.5" y="675.3" font-family="Liberation Sans, sans-serif" font-size="22.3" text-anchor="start" textLength="66.3" lengthAdjust="spacingAndGlyphs" stroke="#fff" stroke-width="0.20" paint-order="fill stroke"  xml:space="preserve">39.58</text>
<rect x="418.80" y="696.7" width="56.04" height="14.3" fill="#00008f" stroke="#000" stroke-width="1.6"/>
<rect x="474.84" y="696.7" width="56.04" height="14.3" fill="#0019b4" stroke="#000" stroke-width="1.6"/>
<rect x="530.89" y="696.7" width="56.04" height="14.3" fill="#002ce0" stroke="#000" stroke-width="1.6"/>
<rect x="586.93" y="696.7" width="56.04" height="14.3" fill="#1c4cff" stroke="#000" stroke-width="1.6"/>
<rect x="642.98" y="696.7" width="56.04" height="14.3" fill="#4278ff" stroke="#000" stroke-width="1.6"/>
<rect x="699.02" y="696.7" width="56.04" height="14.3" fill="#82a6ff" stroke="#000" stroke-width="1.6"/>
<rect x="755.06" y="696.7" width="56.04" height="14.3" fill="#b4ccff" stroke="#000" stroke-width="1.6"/>
<rect x="811.11" y="696.7" width="56.04" height="14.3" fill="#d6eaff" stroke="#000" stroke-width="1.6"/>
<rect x="867.15" y="696.7" width="56.04" height="14.3" fill="#ffe9d7" stroke="#000" stroke-width="1.6"/>
<rect x="923.19" y="696.7" width="56.04" height="14.3" fill="#ffcdb4" stroke="#000" stroke-width="1.6"/>
<rect x="979.24" y="696.7" width="56.04" height="14.3" fill="#ffaa87" stroke="#000" stroke-width="1.6"/>
<rect x="1035.28" y="696.7" width="56.04" height="14.3" fill="#ff7d46" stroke="#000" stroke-width="1.6"/>
<rect x="1091.33" y="696.7" width="56.04" height="14.3" fill="#ff5019" stroke="#000" stroke-width="1.6"/>
<rect x="1147.37" y="696.7" width="56.04" height="14.3" fill="#e03200" stroke="#000" stroke-width="1.6"/>
<rect x="1203.41" y="696.7" width="56.04" height="14.3" fill="#b92805" stroke="#000" stroke-width="1.6"/>
<rect x="1259.46" y="696.7" width="56.04" height="14.3" fill="#8c0000" stroke="#000" stroke-width="1.6"/>
<text x="474.8" y="735.6" font-family="Liberation Sans, sans-serif" font-size="22.3" text-anchor="middle" textLength="62.0" lengthAdjust="spacingAndGlyphs" stroke="#fff" stroke-width="0.20" paint-order="fill stroke"  xml:space="preserve">−100</text>
<text x="586.9" y="735.6" font-family="Liberation Sans, sans-serif" font-size="22.3" text-anchor="middle" textLength="47.0" lengthAdjust="spacingAndGlyphs" stroke="#fff" stroke-width="0.20" paint-order="fill stroke"  xml:space="preserve">−60</text>
<text x="699.0" y="735.6" font-family="Liberation Sans, sans-serif" font-size="22.3" text-anchor="middle" textLength="47.0" lengthAdjust="spacingAndGlyphs" stroke="#fff" stroke-width="0.20" paint-order="fill stroke"  xml:space="preserve">−20</text>
<text x="811.1" y="735.6" font-family="Liberation Sans, sans-serif" font-size="22.3" text-anchor="middle" textLength="33.0" lengthAdjust="spacingAndGlyphs" stroke="#fff" stroke-width="0.20" paint-order="fill stroke"  xml:space="preserve">−5</text>
<text x="923.2" y="735.6" font-family="Liberation Sans, sans-serif" font-size="22.3" text-anchor="middle" textLength="14.5" lengthAdjust="spacingAndGlyphs" stroke="#fff" stroke-width="0.20" paint-order="fill stroke"  xml:space="preserve">5</text>
<text x="1035.3" y="735.6" font-family="Liberation Sans, sans-serif" font-size="22.3" text-anchor="middle" textLength="28.0" lengthAdjust="spacingAndGlyphs" stroke="#fff" stroke-width="0.20" paint-order="fill stroke"  xml:space="preserve">20</text>
<text x="1147.4" y="735.6" font-family="Liberation Sans, sans-serif" font-size="22.3" text-anchor="middle" textLength="28.0" lengthAdjust="spacingAndGlyphs" stroke="#fff" stroke-width="0.20" paint-order="fill stroke"  xml:space="preserve">40</text>
<text x="1259.5" y="735.6" font-family="Liberation Sans, sans-serif" font-size="22.3" text-anchor="middle" textLength="28.0" lengthAdjust="spacingAndGlyphs" stroke="#fff" stroke-width="0.20" paint-order="fill stroke"  xml:space="preserve">60</text>
<g clip-path="url(#clip1)"><g filter="url(#q1)">
<rect x="374.0" y="853.9" width="986.3" height="433.1" fill="#878787"/>
<path d="M443.3 888.0L543.3 888.0L538.3 918.0L535.0 961.3L526.7 974.7L513.3 967.3L503.3 974.7L496.0 988.0L494.3 1078.0L493.3 1161.3L500.0 1171.3L503.3 1184.7L513.3 1214.7L533.3 1239.7L540.0 1249.7L413.3 1249.7L420.0 1228.0L433.3 1194.7L441.7 1144.7L443.3 1094.7L441.7 978.0L443.3 928.0Z" fill="#787878"/>
<path d="M410.0 888.0L424.0 888.0L414.0 915.3L410.0 915.3Z" fill="#787878"/>
<path d="M663.3 888.0L650.0 908.0L645.0 924.7L633.3 934.7L600.0 944.7L573.3 958.0L556.7 974.7L550.0 988.0L549.0 1078.0L551.7 1178.0L555.0 1228.0L551.7 1249.7L901.7 1249.7L906.7 1241.3L916.7 1224.7L918.3 1194.7L913.3 1161.3L903.3 1128.0L893.3 1078.0L891.7 1011.3L895.0 966.3L903.3 958.0L913.3 924.7L916.7 898.0L918.3 888.0Z" fill="#787878"/>
<path d="M676.7 888.0L690.0 904.7L701.7 923.0L708.3 904.7L716.7 888.0Z" fill="#878787"/>
<path d="M680.0 1249.7L676.7 1218.0L683.3 1208.0L693.3 1198.0L701.7 1168.0L706.7 1191.3L711.7 1211.3L716.7 1249.7Z" fill="#878787"/>
<path d="M685.0 1218.0L693.3 1214.7L694.0 1238.0L686.7 1241.3Z" fill="#979797"/>
<path d="M708.3 1198.0L713.3 1211.3L715.3 1243.0L711.7 1231.3Z" fill="#9f9f9f"/>
<path d="M701.0 1074.7L704.0 1074.7L704.0 1111.3L701.3 1111.3Z" fill="#878787"/>
<path d="M626.7 1249.7L630.0 1234.7L635.0 1239.7L638.3 1249.7Z" fill="#878787"/>
<path d="M728.3 1249.7L731.7 1228.0L735.0 1249.7Z" fill="#878787"/>
<path d="M410.0 966.3L423.3 969.7L430.0 994.7L428.3 1028.0L426.7 1078.0L436.7 1108.0L438.3 1124.7L431.7 1161.3L425.0 1194.7L420.0 1228.0L414.0 1243.0L410.0 1243.0Z" fill="#979797"/>
<path d="M410.0 1004.7L418.3 1018.0L420.0 1078.0L425.0 1118.0L426.7 1144.7L421.7 1178.0L416.7 1211.3L414.0 1224.7L410.0 1224.7Z" fill="#a7a7a7"/>
<path d="M551.7 924.7L563.3 916.3L573.3 921.3L581.7 928.0L566.7 941.3L560.0 958.0L553.3 961.3L549.0 951.3Z" fill="#979797"/>
<path d="M438.3 1188.0L445.0 1111.3L448.3 1044.7L453.3 961.3L470.0 944.7L478.3 937.3L485.0 944.7L488.3 964.7L489.3 1078.0L490.7 1164.7L496.7 1178.0L500.0 1211.3L480.0 1224.7L463.3 1221.3L446.7 1214.7Z" fill="#686868"/>
<path d="M445.0 1171.3L450.0 1078.0L451.7 1018.0L458.3 981.3L471.7 973.0L479.3 966.3L485.0 978.0L487.3 1018.0L488.3 1111.3L489.3 1168.0L493.3 1198.0L483.3 1211.3L466.7 1214.7L453.3 1204.7Z" fill="#585858"/>
<path d="M450.0 1168.0L453.3 1078.0L455.0 1034.7L460.0 1016.3L466.7 1014.0L475.0 1018.0L481.7 1011.3L485.0 1038.0L486.0 1111.3L486.0 1171.3L480.0 1188.0L473.3 1191.3L463.3 1201.3L458.3 1198.0L451.7 1184.7Z" fill="#484848"/>
<path d="M425.0 1193.3L421.7 1226.7L416.7 1247.5L496.7 1247.5L493.3 1233.3L481.7 1223.3L475.0 1213.3L470.0 1220.0L466.7 1215.0L460.0 1218.3L451.7 1218.3L448.3 1206.7L443.3 1193.3L436.7 1186.7Z" fill="#787878"/>
<path d="M439.2 1206.7L442.5 1200.0L447.5 1203.3L448.3 1213.3L443.3 1219.2L439.2 1215.0Z" fill="#878787"/>
<path d="M440.8 1208.3L444.2 1206.7L445.3 1211.7L442.5 1214.2Z" fill="#979797"/>
<path d="M435.0 1231.7L440.0 1224.2L445.0 1230.0L445.8 1238.3L442.5 1245.0L436.7 1243.3Z" fill="#585858"/>
<path d="M436.7 1233.3L440.0 1227.5L443.3 1233.3L443.3 1240.0L440.0 1243.3L437.5 1240.0Z" fill="#484848"/>
<path d="M438.7 1234.2L440.8 1231.7L442.0 1238.3L439.7 1241.7Z" fill="#383838"/>
<path d="M450.8 1247.5L453.3 1233.3L455.8 1231.7L458.3 1247.5Z" fill="#878787"/>
<path d="M461.7 1247.5L463.0 1228.3L464.7 1228.3L465.8 1247.5Z" fill="#878787"/>
<path d="M468.3 1247.5L470.0 1235.0L472.0 1236.7L473.3 1247.5Z" fill="#878787"/>
<path d="M475.8 1247.5L480.0 1235.0L485.0 1226.7L488.3 1230.0L490.0 1247.5Z" fill="#878787"/>
<path d="M481.7 1193.3L485.0 1188.3L489.2 1183.3L493.3 1193.3L495.8 1210.0L496.7 1223.3L493.3 1225.0L488.3 1220.0L483.3 1210.0Z" fill="#585858"/>
<path d="M485.0 1191.7L488.3 1186.7L491.7 1193.3L493.3 1210.0L494.2 1220.0L491.7 1218.3L488.3 1210.0L485.8 1201.7Z" fill="#383838"/>
<path d="M487.5 1198.3L490.0 1196.7L490.8 1210.0L488.7 1211.7Z" fill="#282828"/>
<path d="M494.2 1186.7L500.0 1170.0L504.2 1176.7L508.3 1201.7L515.0 1216.7L526.7 1230.0L533.3 1247.5L500.8 1247.5L498.3 1226.7L495.8 1210.0Z" fill="#686868"/>
<path d="M496.7 1186.7L500.8 1173.3L503.3 1180.0L506.7 1201.7L513.3 1218.3L523.3 1230.0L530.0 1247.5L503.3 1247.5L500.8 1226.7L498.3 1210.0Z" fill="#484848"/>
<path d="M499.2 1193.3L501.7 1183.3L504.2 1193.3L506.7 1210.0L511.7 1223.3L518.3 1231.7L520.0 1247.5L506.7 1247.5L503.3 1226.7L500.0 1210.0Z" fill="#383838"/>
<path d="M508.3 1228.3L513.3 1226.7L516.7 1236.7L517.5 1247.5L509.2 1247.5Z" fill="#282828"/>
<path d="M510.8 1235.0L514.2 1235.0L515.0 1247.5L510.8 1247.5Z" fill="#181818"/>
<path d="M495.3 1247.5L496.3 1226.7L498.3 1223.3L500.8 1236.7L501.7 1247.5Z" fill="#9f9f9f"/>
<path d="M500.0 998.0L510.0 989.7L526.7 996.3L540.0 1006.3L548.3 1024.7L555.0 1064.7L560.0 1111.3L563.3 1178.0L560.0 1211.3L546.7 1234.7L533.3 1239.7L523.3 1224.7L513.3 1214.7L506.7 1198.0L500.0 1171.3L498.3 1158.0L500.0 1078.0L499.3 1028.0Z" fill="#979797"/>
<path d="M503.3 1011.3L515.0 1006.3L533.3 1014.7L543.3 1031.3L550.0 1064.7L555.0 1111.3L558.3 1178.0L555.0 1208.0L543.3 1229.7L533.3 1234.7L525.0 1218.0L515.0 1208.0L508.3 1188.0L502.7 1161.3L501.7 1078.0Z" fill="#a7a7a7"/>
<path d="M506.7 1044.7L515.0 1041.3L525.0 1044.7L531.7 1043.0L538.3 1054.7L543.3 1084.7L541.7 1111.3L536.7 1141.3L543.3 1161.3L550.0 1191.3L551.7 1211.3L545.0 1224.7L535.0 1228.0L526.7 1211.3L516.7 1204.7L510.0 1184.7L506.0 1144.7L505.0 1078.0Z" fill="#b7b7b7"/>
<path d="M507.5 1146.7L510.0 1153.3L514.2 1166.7L518.3 1180.0L520.8 1193.3L516.7 1200.0L512.5 1206.7L509.2 1193.3L507.5 1168.3Z" fill="#c7c7c7"/>
<path d="M525.8 1186.7L528.3 1179.2L532.5 1183.3L535.0 1180.0L539.2 1188.3L541.7 1198.3L540.0 1216.7L536.7 1220.0L532.5 1215.0L528.3 1206.7L525.8 1196.7Z" fill="#c7c7c7"/>
<path d="M555.0 1241.3L556.7 1211.3L553.3 1111.3L551.7 1011.3L556.7 988.0L573.3 971.3L600.0 961.3L630.0 956.3L643.3 941.3L656.7 928.0L663.3 923.0L670.0 934.7L673.3 961.3L683.3 963.0L690.0 984.7L696.7 1038.0L698.3 1111.3L696.7 1178.0L690.0 1194.7L683.3 1211.3L676.7 1198.0L671.7 1228.0L663.3 1244.7L653.3 1239.7L646.7 1228.0L633.3 1218.0L616.7 1224.7L600.0 1231.3L566.7 1241.3Z" fill="#686868"/>
<path d="M558.3 1238.0L561.7 1211.3L556.7 1111.3L555.0 1018.0L560.0 994.7L576.7 978.0L606.7 968.0L633.3 963.0L646.7 949.7L658.3 943.0L665.0 948.0L670.0 978.0L675.0 1018.0L683.3 998.0L688.3 1011.3L693.3 1051.3L695.0 1111.3L693.3 1171.3L686.7 1188.0L683.3 1204.7L676.7 1178.0L671.7 1211.3L666.7 1234.7L658.3 1238.0L650.0 1211.3L633.3 1208.0L616.7 1214.7L600.0 1221.3L570.0 1236.3Z" fill="#585858"/>
<path d="M563.3 1018.0L580.0 1001.3L600.0 994.7L626.7 993.0L640.0 984.7L656.7 974.7L663.3 978.0L666.7 1011.3L670.0 1078.0L671.7 1144.7L670.0 1178.0L666.7 1211.3L663.3 1231.3L658.3 1224.7L656.7 1178.0L646.7 1184.7L633.3 1194.7L616.7 1193.0L603.3 1204.7L593.3 1198.0L581.7 1184.7L576.7 1168.0L581.7 1151.3L593.3 1124.7L586.7 1104.7L573.3 1078.0L565.0 1044.7Z" fill="#484848"/>
<path d="M672.0 1044.7L674.0 1018.0L676.7 1044.7L677.3 1144.7L674.0 1178.0L672.0 1144.7Z" fill="#585858"/>
<path d="M680.0 1111.3L683.3 1074.7L686.7 1111.3L687.3 1161.3L683.3 1178.0L680.7 1144.7Z" fill="#484848"/>
<path d="M626.7 1058.0L635.0 1038.0L643.3 1036.3L653.3 1044.7L658.3 1051.3L661.7 1043.0L665.0 1064.7L666.7 1111.3L666.7 1144.7L663.3 1163.0L658.3 1144.7L653.3 1131.3L646.7 1128.0L638.3 1134.7L633.3 1124.7L628.3 1098.0L625.0 1078.0Z" fill="#383838"/>
<path d="M676.7 1035.6L680.0 1004.4L683.3 997.8L687.8 1013.3L692.2 1057.8L695.6 1102.2L695.1 1146.7L691.1 1175.6L686.7 1191.1L683.3 1202.2L680.0 1180.0L677.3 1124.4L675.6 1080.0Z" fill="#585858"/>
<path d="M679.1 1124.4L680.9 1091.1L683.3 1073.3L686.0 1091.1L688.2 1124.4L687.6 1157.8L684.0 1178.9L680.9 1157.8Z" fill="#484848"/>
<path d="M684.0 1220.0L690.0 1214.4L694.2 1222.2L693.3 1241.1L687.8 1247.8L684.0 1235.6Z" fill="#979797"/>
<path d="M685.8 1224.4L690.0 1220.0L692.0 1235.6L687.8 1242.2Z" fill="#a7a7a7"/>
<path d="M710.2 1204.4L712.9 1198.9L715.6 1226.7L716.4 1247.8L712.4 1247.8L711.1 1226.7Z" fill="#a1a1a1"/>
<path d="M703.6 1217.8L706.2 1212.2L708.9 1226.7L707.6 1238.9L704.0 1231.1Z" fill="#686868"/>
<path d="M705.0 974.7L710.0 971.3L713.3 984.7L716.7 968.0L725.0 984.7L731.7 999.7L743.3 984.7L760.0 974.7L773.3 958.0L783.3 934.7L800.0 926.3L816.7 926.3L826.7 939.7L833.3 934.7L846.7 954.7L856.7 988.0L866.7 1018.0L876.7 1021.3L880.0 1051.3L890.0 1111.3L900.0 1161.3L910.0 1184.7L910.0 1204.7L900.0 1221.3L883.3 1231.3L850.0 1239.7L800.0 1242.0L766.7 1239.7L750.0 1243.0L733.3 1231.3L726.7 1246.0L720.0 1246.0L716.7 1211.3L711.7 1178.0L706.7 1168.0L705.0 1111.3L703.3 1011.3Z" fill="#686868"/>
<path d="M713.3 1018.0L718.3 1011.3L723.3 1021.3L730.0 1024.7L740.0 1011.3L756.7 1001.3L770.0 988.0L780.0 964.7L790.0 954.7L800.0 952.0L813.3 961.3L823.3 984.7L833.3 988.0L843.3 1011.3L853.3 1044.7L866.7 1094.7L880.0 1144.7L896.7 1171.3L900.0 1198.0L890.0 1218.0L866.7 1228.0L833.3 1231.3L800.0 1236.3L773.3 1231.3L760.0 1234.7L746.7 1224.7L733.3 1211.3L730.0 1231.3L725.0 1241.3L720.0 1211.3L716.7 1178.0L715.0 1111.3L713.3 1051.3Z" fill="#585858"/>
<path d="M715.0 1111.3L725.0 1084.7L728.3 1104.7L735.0 1104.7L738.3 1051.3L746.7 1041.3L756.7 1028.0L766.7 1018.0L780.0 994.7L790.0 987.3L800.0 989.7L810.0 1004.7L820.0 1034.7L833.3 1038.0L843.3 1078.0L856.7 1128.0L870.0 1161.3L880.0 1184.7L876.7 1204.7L860.0 1211.3L833.3 1224.7L803.3 1218.0L783.3 1214.7L766.7 1198.0L761.7 1224.7L753.3 1218.0L740.0 1198.0L730.0 1208.0L721.7 1198.0L716.7 1178.0Z" fill="#484848"/>
<path d="M753.3 1111.3L760.0 1098.0L770.0 1084.7L776.7 1058.0L788.3 1038.0L798.3 1044.7L803.3 1043.0L810.0 1058.0L816.7 1088.0L823.3 1128.0L830.0 1154.7L836.7 1168.0L836.7 1194.7L823.3 1194.7L803.3 1198.0L790.0 1201.3L776.7 1194.7L768.3 1174.7L765.0 1188.0L761.7 1201.3L756.7 1178.0L753.3 1144.7Z" fill="#383838"/>
<path d="M778.3 1131.3L783.3 1118.0L789.3 1100.7L795.0 1124.7L800.0 1111.3L805.0 1131.3L806.0 1151.3L801.7 1168.0L796.7 1161.3L791.7 1176.3L783.3 1164.7L778.3 1151.3Z" fill="#282828"/>
<path d="M930.0 1231.3L936.7 1224.7L933.3 1194.7L920.0 1144.7L908.3 1094.7L910.0 1044.7L916.7 1004.7L926.7 984.7L946.7 974.7L968.3 958.0L996.7 964.7L1023.3 964.7L1053.3 951.3L1083.3 959.7L1120.0 966.3L1122.7 971.3L1122.7 1244.7L1053.3 1243.7L970.0 1240.7L943.3 1237.3Z" fill="#979797"/>
<path d="M936.7 1224.7L943.3 1178.0L946.7 1144.7L930.0 1118.0L918.3 1084.7L918.3 1058.0L926.7 1031.3L946.7 1011.3L976.7 994.7L1016.7 996.3L1046.7 981.3L1070.0 981.3L1096.7 988.0L1119.3 993.0L1120.7 1011.3L1120.7 1241.3L1053.3 1241.3L1016.7 1236.3L970.0 1234.7L946.7 1229.7Z" fill="#a7a7a7"/>
<path d="M976.7 1084.7L981.7 1074.7L996.7 1058.0L1010.0 1049.7L1020.0 1051.3L1028.3 1049.7L1036.7 1059.7L1040.0 1084.7L1033.3 1104.7L1026.7 1109.7L1020.0 1116.3L1010.0 1114.7L1000.0 1111.3L986.7 1101.3L978.3 1091.3Z" fill="#b7b7b7"/>
<path d="M973.3 1223.0L983.3 1211.3L993.3 1206.3L995.0 1194.7L1000.0 1198.0L1000.0 1171.3L1010.0 1168.0L1020.0 1144.7L1028.3 1154.7L1036.7 1141.3L1046.7 1118.0L1053.3 1121.3L1070.0 1111.3L1080.0 1104.7L1088.3 1084.7L1098.3 1094.7L1103.3 1111.3L1113.3 1118.0L1118.3 1131.3L1116.7 1178.0L1110.0 1171.3L1103.3 1161.3L1096.7 1178.0L1090.0 1198.0L1100.0 1218.0L1090.0 1229.7L1070.0 1231.3L1036.7 1236.3L1010.0 1234.7L986.7 1228.0Z" fill="#b7b7b7"/>
<path d="M1019.0 1111.3L1022.0 1111.3L1022.3 1164.7L1019.7 1164.7Z" fill="#b7b7b7"/>
<path d="M1046.0 1221.3L1053.3 1218.7L1056.7 1226.3L1050.0 1229.7Z" fill="#c7c7c7"/>
<path d="M1120.7 1154.7L1123.3 1144.7L1125.0 1178.0L1121.7 1188.0Z" fill="#c7c7c7"/>
<path d="M1215.0 990.0L1218.3 981.7L1235.0 967.5L1241.7 965.0L1256.7 967.5L1273.3 970.8L1290.0 971.7L1303.3 980.0L1311.7 981.7L1323.3 975.8L1326.7 975.8L1326.7 1248.3L1273.3 1248.3L1265.0 1243.3L1256.7 1238.3L1252.5 1226.7L1253.3 1215.0L1256.7 1200.0L1255.0 1186.7L1250.0 1173.3L1245.0 1156.7L1240.0 1140.0L1235.0 1120.0L1228.3 1108.3L1221.7 1106.7L1215.0 1090.0L1210.8 1065.0L1210.0 1040.0L1212.5 1010.0Z" fill="#979797"/>
<path d="M1223.3 1121.7L1228.3 1118.3L1233.3 1119.2L1236.7 1131.7L1238.3 1148.3L1235.0 1161.7L1230.8 1165.0L1226.7 1158.3L1222.5 1148.3L1221.7 1131.7Z" fill="#878787"/>
<path d="M1245.0 1003.3L1251.7 1002.0L1265.0 1003.3L1290.0 1002.5L1311.7 1005.8L1326.7 1001.7L1326.7 1232.5L1306.7 1238.3L1290.0 1240.0L1273.3 1238.3L1261.7 1235.0L1255.0 1228.3L1254.2 1215.0L1257.5 1200.0L1255.8 1186.7L1250.0 1170.0L1245.8 1148.3L1241.7 1123.3L1238.3 1103.3L1233.3 1090.0L1223.3 1090.8L1218.3 1081.7L1215.0 1056.7L1216.7 1033.3L1219.2 1020.0L1228.3 1019.7L1232.5 1025.8L1236.7 1015.0L1240.8 1006.7Z" fill="#a7a7a7"/>
<path d="M1278.3 1153.3L1281.7 1149.2L1285.0 1155.0L1281.7 1163.3L1279.2 1168.3Z" fill="#b7b7b7"/>
<path d="M1287.5 1145.0L1290.0 1135.0L1293.3 1140.0L1296.7 1137.5L1300.0 1148.3L1305.0 1145.0L1308.3 1156.7L1305.8 1173.3L1301.7 1165.0L1298.3 1173.3L1294.2 1168.3L1290.0 1173.3L1287.5 1160.0Z" fill="#b7b7b7"/>
<path d="M1269.2 1220.0L1273.3 1215.0L1281.7 1206.7L1290.0 1203.3L1296.7 1206.7L1299.2 1220.0L1295.0 1230.0L1286.7 1234.2L1276.7 1233.3L1270.8 1228.3Z" fill="#b7b7b7"/>
<path d="M1302.5 1213.3L1305.8 1210.8L1306.7 1218.3L1304.2 1220.8Z" fill="#b7b7b7"/>
<path d="M1304.2 1061.7L1306.7 1060.0L1306.3 1080.0L1305.0 1080.0Z" fill="#b7b7b7"/>
<path d="M1130.8 970.0L1134.2 968.3L1137.5 981.7L1136.7 1015.0L1134.2 1038.3L1131.7 1015.0L1130.0 990.0Z" fill="#979797"/>
<path d="M1090.0 888.0L1128.3 888.0L1126.7 898.0L1123.3 931.3L1116.7 914.7L1106.7 901.3Z" fill="#787878"/>
<path d="M1303.3 888.0L1326.7 888.0L1326.7 928.0L1316.7 933.0L1305.0 928.0L1303.3 911.3Z" fill="#787878"/>
<path d="M1140.0 890.0L1173.3 890.0L1175.0 956.7L1178.3 990.0L1180.8 1040.0L1183.3 1065.0L1188.3 1086.7L1191.7 1073.3L1196.7 1064.2L1199.2 1066.7L1201.7 1081.7L1206.7 1106.7L1210.0 1123.3L1213.3 1140.0L1216.7 1171.7L1221.7 1163.3L1225.8 1155.0L1228.3 1161.7L1233.3 1151.7L1236.7 1165.0L1240.0 1178.3L1245.0 1186.7L1246.7 1200.0L1245.0 1215.0L1243.3 1231.7L1240.8 1248.3L1118.3 1248.3L1120.8 1223.3L1123.3 1200.0L1127.5 1173.3L1131.7 1148.3L1135.0 1123.3L1137.5 1073.3L1139.2 1023.3L1140.8 973.3Z" fill="#787878"/>
<path d="M1123.3 1040.0L1125.8 1006.7L1128.0 1005.0L1130.0 1040.0L1132.5 1090.0L1133.7 1131.7L1131.7 1156.7L1129.2 1173.3L1125.8 1165.0L1124.2 1123.3L1123.0 1073.3Z" fill="#787878"/>
<path d="M1196.7 890.0L1220.0 890.0L1213.3 940.0L1210.0 956.7L1206.7 969.2L1203.3 955.8L1200.8 981.7L1198.3 1040.0L1196.7 1064.2L1191.7 1073.3L1190.0 1023.3L1190.8 973.3L1192.5 940.0Z" fill="#787878"/>
<path d="M1145.0 1006.7L1153.3 996.7L1156.7 1006.7L1161.7 1018.3L1168.3 998.3L1173.3 1010.0L1176.7 1026.7L1180.0 1056.7L1183.3 1081.7L1187.5 1106.7L1190.0 1098.3L1194.2 1073.3L1197.5 1085.0L1201.7 1103.3L1206.7 1123.3L1211.7 1148.3L1215.0 1173.3L1218.3 1181.7L1223.3 1173.3L1228.3 1180.0L1233.3 1173.3L1238.3 1183.3L1242.5 1195.0L1242.5 1213.3L1236.7 1223.3L1231.7 1231.7L1228.3 1223.3L1225.0 1233.3L1221.7 1248.3L1120.0 1248.3L1122.5 1223.3L1125.0 1203.3L1129.2 1181.7L1133.3 1156.7L1135.8 1165.0L1138.3 1131.7L1140.0 1090.0L1141.7 1056.7L1143.3 1026.7Z" fill="#686868"/>
<path d="M1146.7 1030.0L1153.3 1019.2L1156.7 1026.7L1161.7 1041.7L1165.8 1029.2L1169.2 1029.2L1172.5 1043.3L1175.8 1073.3L1180.0 1106.7L1184.2 1140.0L1188.3 1165.0L1191.7 1140.0L1195.0 1106.7L1198.3 1090.8L1201.7 1106.7L1205.0 1131.7L1209.2 1156.7L1213.3 1186.7L1218.3 1193.3L1223.3 1180.0L1228.3 1185.8L1233.3 1178.3L1237.5 1190.0L1238.3 1206.7L1235.0 1220.0L1230.0 1221.7L1225.0 1210.0L1221.7 1223.3L1218.3 1236.7L1215.0 1248.3L1190.0 1248.3L1183.3 1240.0L1173.3 1236.7L1156.7 1239.2L1140.0 1235.8L1134.7 1248.3L1120.8 1248.3L1123.3 1223.3L1125.8 1206.7L1130.0 1186.7L1134.2 1165.0L1138.3 1148.3L1140.8 1106.7L1143.3 1065.0Z" fill="#585858"/>
<path d="M1133.7 1248.3L1135.8 1242.5L1140.0 1239.2L1156.7 1242.5L1173.3 1240.0L1183.3 1243.3L1188.3 1248.3Z" fill="#787878"/>
<path d="M1145.0 1073.3L1149.2 1060.0L1153.3 1050.0L1156.7 1066.7L1161.7 1110.0L1165.0 1083.3L1168.3 1090.0L1171.7 1115.0L1175.0 1140.0L1180.0 1170.0L1185.0 1190.0L1190.0 1186.7L1195.0 1176.7L1198.3 1165.0L1201.7 1173.3L1206.7 1178.3L1210.0 1200.0L1206.7 1215.0L1198.3 1213.3L1191.7 1218.3L1185.0 1223.3L1180.0 1233.3L1173.3 1230.8L1168.3 1231.7L1161.7 1235.8L1153.3 1232.5L1145.0 1228.3L1138.3 1230.0L1135.0 1238.3L1132.5 1248.3L1120.8 1248.3L1123.3 1226.7L1126.7 1206.7L1131.7 1186.7L1136.7 1165.0L1140.0 1140.0L1142.5 1106.7Z" fill="#484848"/>
<path d="M1212.5 1210.0L1216.7 1196.7L1220.0 1203.3L1219.2 1223.3L1215.8 1238.3L1212.5 1226.7Z" fill="#484848"/>
<path d="M1193.3 1223.3L1198.3 1213.3L1200.0 1231.7L1198.3 1248.3L1192.5 1248.3Z" fill="#484848"/>
<path d="M1139.3 1165.0L1144.7 1146.7L1148.7 1126.7L1152.5 1123.3L1155.7 1140.0L1159.0 1173.3L1161.7 1190.0L1164.2 1178.3L1167.3 1185.0L1170.3 1210.8L1163.3 1215.0L1158.3 1218.3L1153.3 1225.0L1146.7 1218.3L1137.7 1211.7L1134.0 1200.0L1135.7 1181.7Z" fill="#383838"/>
<path d="M1119.7 1240.0L1122.0 1213.3L1126.3 1186.7L1131.7 1180.0L1134.0 1200.0L1132.7 1223.3L1130.7 1240.0L1128.7 1248.3L1118.7 1248.3Z" fill="#383838"/>
<path d="M1148.3 1180.0L1150.8 1169.2L1154.2 1173.3L1154.2 1200.0L1152.5 1210.0L1149.2 1200.0Z" fill="#282828"/>
<path d="M1121.3 1236.7L1124.0 1213.3L1127.3 1193.3L1131.0 1196.7L1131.7 1213.3L1130.7 1230.0L1128.3 1245.0L1121.7 1248.3Z" fill="#282828"/>
<path d="M1124.0 1233.3L1126.0 1220.0L1128.0 1216.7L1129.0 1226.7L1128.0 1236.7L1126.3 1243.3L1124.3 1242.5Z" fill="#212121"/>
<path d="M1122.2 1163.3L1123.8 1156.7L1125.3 1166.7L1124.7 1178.3L1122.7 1176.7Z" fill="#c7c7c7"/>
<path d="M1219.2 1248.3L1220.8 1216.7L1222.5 1213.3L1224.2 1223.3L1225.8 1248.3Z" fill="#878787"/>
<path d="M1221.2 1248.3L1222.0 1223.3L1223.3 1223.3L1223.8 1248.3Z" fill="#9e9e9e"/>
</g></g>
<rect x="414.0" y="893.9" width="906.3" height="353.1" fill="none" stroke="#000" stroke-width="2.8"/>
<path d="M414.0 893.9v-20.5M414.0 1247.0v21" stroke="#000" stroke-width="2.8" stroke-linecap="round" fill="none"/>
<path d="M489.8 893.9v-11M489.8 1247.0v11.5" stroke="#000" stroke-width="1.3" fill="none"/>
<path d="M565.5 893.9v-20.5M565.5 1247.0v21" stroke="#000" stroke-width="2.8" stroke-linecap="round" fill="none"/>
<path d="M641.2 893.9v-11M641.2 1247.0v11.5" stroke="#000" stroke-width="1.3" fill="none"/>
<path d="M717.0 893.9v-20.5M717.0 1247.0v21" stroke="#000" stroke-width="2.8" stroke-linecap="round" fill="none"/>
<path d="M792.8 893.9v-11M792.8 1247.0v11.5" stroke="#000" stroke-width="1.3" fill="none"/>
<path d="M868.5 893.9v-20.5M868.5 1247.0v21" stroke="#000" stroke-width="2.8" stroke-linecap="round" fill="none"/>
<path d="M944.2 893.9v-11M944.2 1247.0v11.5" stroke="#000" stroke-width="1.3" fill="none"/>
<path d="M1020.0 893.9v-20.5M1020.0 1247.0v21" stroke="#000" stroke-width="2.8" stroke-linecap="round" fill="none"/>
<path d="M1095.8 893.9v-11M1095.8 1247.0v11.5" stroke="#000" stroke-width="1.3" fill="none"/>
<path d="M1171.5 893.9v-20.5M1171.5 1247.0v21" stroke="#000" stroke-width="2.8" stroke-linecap="round" fill="none"/>
<path d="M1247.2 893.9v-11M1247.2 1247.0v11.5" stroke="#000" stroke-width="1.3" fill="none"/>
<path d="M414.0 893.9h-21.5" stroke="#000" stroke-width="2.8" stroke-linecap="round" fill="none"/>
<text x="378.5" y="902.5" font-family="Liberation Sans, sans-serif" font-size="23.3" text-anchor="end" textLength="48.0" lengthAdjust="spacingAndGlyphs" stroke="#fff" stroke-width="0.20" paint-order="fill stroke"  xml:space="preserve">100</text>
<path d="M414.0 956.1h-21.5" stroke="#000" stroke-width="2.8" stroke-linecap="round" fill="none"/>
<text x="378.5" y="964.7" font-family="Liberation Sans, sans-serif" font-size="23.3" text-anchor="end" textLength="48.0" lengthAdjust="spacingAndGlyphs" stroke="#fff" stroke-width="0.20" paint-order="fill stroke"  xml:space="preserve">150</text>
<path d="M414.0 1000.2h-21.5" stroke="#000" stroke-width="2.8" stroke-linecap="round" fill="none"/>
<text x="378.5" y="1008.8" font-family="Liberation Sans, sans-serif" font-size="23.3" text-anchor="end" textLength="48.0" lengthAdjust="spacingAndGlyphs" stroke="#fff" stroke-width="0.20" paint-order="fill stroke"  xml:space="preserve">200</text>
<path d="M414.0 1034.4h-21.5" stroke="#000" stroke-width="2.8" stroke-linecap="round" fill="none"/>
<text x="378.5" y="1043.0" font-family="Liberation Sans, sans-serif" font-size="23.3" text-anchor="end" textLength="48.0" lengthAdjust="spacingAndGlyphs" stroke="#fff" stroke-width="0.20" paint-order="fill stroke"  xml:space="preserve">250</text>
<path d="M414.0 1062.4h-21.5" stroke="#000" stroke-width="2.8" stroke-linecap="round" fill="none"/>
<text x="378.5" y="1071.0" font-family="Liberation Sans, sans-serif" font-size="23.3" text-anchor="end" textLength="48.0" lengthAdjust="spacingAndGlyphs" stroke="#fff" stroke-width="0.20" paint-order="fill stroke"  xml:space="preserve">300</text>
<path d="M414.0 1106.5h-21.5" stroke="#000" stroke-width="2.8" stroke-linecap="round" fill="none"/>
<text x="378.5" y="1115.1" font-family="Liberation Sans, sans-serif" font-size="23.3" text-anchor="end" textLength="48.0" lengthAdjust="spacingAndGlyphs" stroke="#fff" stroke-width="0.20" paint-order="fill stroke"  xml:space="preserve">400</text>
<path d="M414.0 1140.7h-21.5" stroke="#000" stroke-width="2.8" stroke-linecap="round" fill="none"/>
<text x="378.5" y="1149.3" font-family="Liberation Sans, sans-serif" font-size="23.3" text-anchor="end" textLength="48.0" lengthAdjust="spacingAndGlyphs" stroke="#fff" stroke-width="0.20" paint-order="fill stroke"  xml:space="preserve">500</text>
<path d="M414.0 1192.3h-21.5" stroke="#000" stroke-width="2.8" stroke-linecap="round" fill="none"/>
<text x="378.5" y="1200.9" font-family="Liberation Sans, sans-serif" font-size="23.3" text-anchor="end" textLength="48.0" lengthAdjust="spacingAndGlyphs" stroke="#fff" stroke-width="0.20" paint-order="fill stroke"  xml:space="preserve">700</text>
<path d="M414.0 1222.1h-21.5" stroke="#000" stroke-width="2.8" stroke-linecap="round" fill="none"/>
<text x="378.5" y="1230.7" font-family="Liberation Sans, sans-serif" font-size="23.3" text-anchor="end" textLength="48.0" lengthAdjust="spacingAndGlyphs" stroke="#fff" stroke-width="0.20" paint-order="fill stroke"  xml:space="preserve">850</text>
<path d="M414.0 1247.0h-21.5" stroke="#000" stroke-width="2.8" stroke-linecap="round" fill="none"/>
<text x="378.5" y="1255.6" font-family="Liberation Sans, sans-serif" font-size="23.3" text-anchor="end" textLength="63.5" lengthAdjust="spacingAndGlyphs" stroke="#fff" stroke-width="0.20" paint-order="fill stroke"  xml:space="preserve">1000</text>
<path d="M1320.3 899.7h21.5" stroke="#000" stroke-width="2.8" stroke-linecap="round" fill="none"/>
<text x="1355.5" y="908.3" font-family="Liberation Sans, sans-serif" font-size="23.3" text-anchor="start" textLength="30.0" lengthAdjust="spacingAndGlyphs" stroke="#fff" stroke-width="0.20" paint-order="fill stroke"  xml:space="preserve">16</text>
<path d="M1320.3 995.1h21.5" stroke="#000" stroke-width="2.8" stroke-linecap="round" fill="none"/>
<text x="1355.5" y="1003.7" font-family="Liberation Sans, sans-serif" font-size="23.3" text-anchor="start" textLength="30.0" lengthAdjust="spacingAndGlyphs" stroke="#fff" stroke-width="0.20" paint-order="fill stroke"  xml:space="preserve">12</text>
<path d="M1320.3 1089.1h21.5" stroke="#000" stroke-width="2.8" stroke-linecap="round" fill="none"/>
<text x="1355.5" y="1097.7" font-family="Liberation Sans, sans-serif" font-size="23.3" text-anchor="start" textLength="15.0" lengthAdjust="spacingAndGlyphs" stroke="#fff" stroke-width="0.20" paint-order="fill stroke"  xml:space="preserve">8</text>
<path d="M1320.3 1173.1h21.5" stroke="#000" stroke-width="2.8" stroke-linecap="round" fill="none"/>
<text x="1355.5" y="1181.7" font-family="Liberation Sans, sans-serif" font-size="23.3" text-anchor="start" textLength="15.0" lengthAdjust="spacingAndGlyphs" stroke="#fff" stroke-width="0.20" paint-order="fill stroke"  xml:space="preserve">4</text>
<text x="414.0" y="1302.4" font-family="Liberation Sans, sans-serif" font-size="24.0" text-anchor="middle" textLength="15.0" lengthAdjust="spacingAndGlyphs" stroke="#fff" stroke-width="0.20" paint-order="fill stroke"  xml:space="preserve">0</text>
<text x="565.5" y="1302.4" font-family="Liberation Sans, sans-serif" font-size="24.0" text-anchor="middle" textLength="47.0" lengthAdjust="spacingAndGlyphs" stroke="#fff" stroke-width="0.20" paint-order="fill stroke"  xml:space="preserve">60E</text>
<text x="717.0" y="1302.4" font-family="Liberation Sans, sans-serif" font-size="24.0" text-anchor="middle" textLength="61.0" lengthAdjust="spacingAndGlyphs" stroke="#fff" stroke-width="0.20" paint-order="fill stroke"  xml:space="preserve">120E</text>
<text x="868.5" y="1302.4" font-family="Liberation Sans, sans-serif" font-size="24.0" text-anchor="middle" textLength="48.0" lengthAdjust="spacingAndGlyphs" stroke="#fff" stroke-width="0.20" paint-order="fill stroke"  xml:space="preserve">180</text>
<text x="1020.0" y="1302.4" font-family="Liberation Sans, sans-serif" font-size="24.0" text-anchor="middle" textLength="66.5" lengthAdjust="spacingAndGlyphs" stroke="#fff" stroke-width="0.20" paint-order="fill stroke"  xml:space="preserve">120W</text>
<text x="1171.5" y="1302.4" font-family="Liberation Sans, sans-serif" font-size="24.0" text-anchor="middle" textLength="52.0" lengthAdjust="spacingAndGlyphs" stroke="#fff" stroke-width="0.20" paint-order="fill stroke"  xml:space="preserve">60W</text>
<text x="411.8" y="863.8" font-family="Liberation Sans, sans-serif" font-size="28.0" text-anchor="start" textLength="110.4" lengthAdjust="spacingAndGlyphs" stroke="#fff" stroke-width="0.50" paint-order="fill stroke"  xml:space="preserve">Vertical</text>
<text x="536.8" y="863.8" font-family="Liberation Sans, sans-serif" font-size="28.0" text-anchor="start" textLength="111.4" lengthAdjust="spacingAndGlyphs" stroke="#fff" stroke-width="0.50" paint-order="fill stroke"  xml:space="preserve">velocity</text>
<text x="1321.8" y="863.8" font-family="Liberation Sans, sans-serif" font-size="28.0" text-anchor="end" textLength="150.0" lengthAdjust="spacingAndGlyphs" stroke="#fff" stroke-width="0.50" paint-order="fill stroke"  xml:space="preserve">mbar/day</text>
<g transform="translate(292,1070.1) rotate(-90)"><text x="-144.0" y="0.0" font-family="Liberation Sans, sans-serif" font-size="40.0" text-anchor="start" textLength="165.0" lengthAdjust="spacingAndGlyphs" stroke="#fff" stroke-width="1.50" paint-order="fill stroke"  xml:space="preserve">Pressure</text><text x="48.5" y="0.0" font-family="Liberation Sans, sans-serif" font-size="40.0" text-anchor="start" textLength="95.0" lengthAdjust="spacingAndGlyphs" stroke="#fff" stroke-width="1.50" paint-order="fill stroke"  xml:space="preserve">(mb)</text></g>
<g transform="translate(1443,1070.1) rotate(-90)"><text x="-120.0" y="0.0" font-family="Liberation Sans, sans-serif" font-size="40.0" text-anchor="start" textLength="131.0" lengthAdjust="spacingAndGlyphs" stroke="#fff" stroke-width="1.50" paint-order="fill stroke"  xml:space="preserve">Height</text><text x="24.5" y="0.0" font-family="Liberation Sans, sans-serif" font-size="40.0" text-anchor="start" textLength="94.0" lengthAdjust="spacingAndGlyphs" stroke="#fff" stroke-width="1.50" paint-order="fill stroke"  xml:space="preserve">(km)</text></g>
<text x="691.0" y="1323.4" font-family="Liberation Sans, sans-serif" font-size="22.3" text-anchor="start" textLength="38.7" lengthAdjust="spacingAndGlyphs" stroke="#fff" stroke-width="0.20" paint-order="fill stroke"  xml:space="preserve">MIN</text>
<text x="742.3" y="1323.4" font-family="Liberation Sans, sans-serif" font-size="22.3" text-anchor="start" textLength="17.3" lengthAdjust="spacingAndGlyphs" stroke="#fff" stroke-width="0.20" paint-order="fill stroke"  xml:space="preserve">=</text>
<text x="771.8" y="1323.4" font-family="Liberation Sans, sans-serif" font-size="22.3" text-anchor="start" textLength="84.6" lengthAdjust="spacingAndGlyphs" stroke="#fff" stroke-width="0.20" paint-order="fill stroke"  xml:space="preserve">−84.21</text>
<text x="879.0" y="1323.4" font-family="Liberation Sans, sans-serif" font-size="22.3" text-anchor="start" textLength="45.0" lengthAdjust="spacingAndGlyphs" stroke="#fff" stroke-width="0.20" paint-order="fill stroke"  xml:space="preserve">MAX</text>
<text x="936.7" y="1323.4" font-family="Liberation Sans, sans-serif" font-size="22.3" text-anchor="start" textLength="17.3" lengthAdjust="spacingAndGlyphs" stroke="#fff" stroke-width="0.20" paint-order="fill stroke"  xml:space="preserve">=</text>
<text x="976.7" y="1323.4" font-family="Liberation Sans, sans-serif" font-size="22.3" text-anchor="start" textLength="66.3" lengthAdjust="spacingAndGlyphs" stroke="#fff" stroke-width="0.20" paint-order="fill stroke"  xml:space="preserve">42.30</text>
<rect x="418.80" y="1344.8" width="56.04" height="14.3" fill="#00008f" stroke="#000" stroke-width="1.6"/>
<rect x="474.84" y="1344.8" width="56.04" height="14.3" fill="#0019b4" stroke="#000" stroke-width="1.6"/>
<rect x="530.89" y="1344.8" width="56.04" height="14.3" fill="#002ce0" stroke="#000" stroke-width="1.6"/>
<rect x="586.93" y="1344.8" width="56.04" height="14.3" fill="#1c4cff" stroke="#000" stroke-width="1.6"/>
<rect x="642.98" y="1344.8" width="56.04" height="14.3" fill="#4278ff" stroke="#000" stroke-width="1.6"/>
<rect x="699.02" y="1344.8" width="56.04" height="14.3" fill="#82a6ff" stroke="#000" stroke-width="1.6"/>
<rect x="755.06" y="1344.8" width="56.04" height="14.3" fill="#b4ccff" stroke="#000" stroke-width="1.6"/>
<rect x="811.11" y="1344.8" width="56.04" height="14.3" fill="#d6eaff" stroke="#000" stroke-width="1.6"/>
<rect x="867.15" y="1344.8" width="56.04" height="14.3" fill="#ffe9d7" stroke="#000" stroke-width="1.6"/>
<rect x="923.19" y="1344.8" width="56.04" height="14.3" fill="#ffcdb4" stroke="#000" stroke-width="1.6"/>
<rect x="979.24" y="1344.8" width="56.04" height="14.3" fill="#ffaa87" stroke="#000" stroke-width="1.6"/>
<rect x="1035.28" y="1344.8" width="56.04" height="14.3" fill="#ff7d46" stroke="#000" stroke-width="1.6"/>
<rect x="1091.33" y="1344.8" width="56.04" height="14.3" fill="#ff5019" stroke="#000" stroke-width="1.6"/>
<rect x="1147.37" y="1344.8" width="56.04" height="14.3" fill="#e03200" stroke="#000" stroke-width="1.6"/>
<rect x="1203.41" y="1344.8" width="56.04" height="14.3" fill="#b92805" stroke="#000" stroke-width="1.6"/>
<rect x="1259.46" y="1344.8" width="56.04" height="14.3" fill="#8c0000" stroke="#000" stroke-width="1.6"/>
<text x="474.8" y="1383.7" font-family="Liberation Sans, sans-serif" font-size="22.3" text-anchor="middle" textLength="62.0" lengthAdjust="spacingAndGlyphs" stroke="#fff" stroke-width="0.20" paint-order="fill stroke"  xml:space="preserve">−100</text>
<text x="586.9" y="1383.7" font-family="Liberation Sans, sans-serif" font-size="22.3" text-anchor="middle" textLength="47.0" lengthAdjust="spacingAndGlyphs" stroke="#fff" stroke-width="0.20" paint-order="fill stroke"  xml:space="preserve">−60</text>
<text x="699.0" y="1383.7" font-family="Liberation Sans, sans-serif" font-size="22.3" text-anchor="middle" textLength="47.0" lengthAdjust="spacingAndGlyphs" stroke="#fff" stroke-width="0.20" paint-order="fill stroke"  xml:space="preserve">−20</text>
<text x="811.1" y="1383.7" font-family="Liberation Sans, sans-serif" font-size="22.3" text-anchor="middle" textLength="33.0" lengthAdjust="spacingAndGlyphs" stroke="#fff" stroke-width="0.20" paint-order="fill stroke"  xml:space="preserve">−5</text>
<text x="923.2" y="1383.7" font-family="Liberation Sans, sans-serif" font-size="22.3" text-anchor="middle" textLength="14.5" lengthAdjust="spacingAndGlyphs" stroke="#fff" stroke-width="0.20" paint-order="fill stroke"  xml:space="preserve">5</text>
<text x="1035.3" y="1383.7" font-family="Liberation Sans, sans-serif" font-size="22.3" text-anchor="middle" textLength="28.0" lengthAdjust="spacingAndGlyphs" stroke="#fff" stroke-width="0.20" paint-order="fill stroke"  xml:space="preserve">20</text>
<text x="1147.4" y="1383.7" font-family="Liberation Sans, sans-serif" font-size="22.3" text-anchor="middle" textLength="28.0" lengthAdjust="spacingAndGlyphs" stroke="#fff" stroke-width="0.20" paint-order="fill stroke"  xml:space="preserve">40</text>
<text x="1259.5" y="1383.7" font-family="Liberation Sans, sans-serif" font-size="22.3" text-anchor="middle" textLength="28.0" lengthAdjust="spacingAndGlyphs" stroke="#fff" stroke-width="0.20" paint-order="fill stroke"  xml:space="preserve">60</text>
<g clip-path="url(#clip2)"><g filter="url(#q2)">
<rect x="374.0" y="1502.0" width="986.3" height="433.1" fill="#878787"/>
<path d="M408.9 1536.7L444.4 1536.7L440.0 1550.0L436.7 1574.4L435.6 1618.9L431.1 1652.2L425.6 1685.6L421.1 1707.8L424.4 1741.1L428.9 1763.3L433.3 1752.2L436.7 1754.4L436.7 1796.7L433.3 1830.0L431.1 1841.1L424.4 1847.8L420.0 1854.4L416.7 1863.3L408.9 1867.8Z" fill="#787878"/>
<path d="M435.6 1807.8L437.8 1796.7L439.6 1818.9L438.2 1850.0L435.6 1845.6Z" fill="#686868"/>
<path d="M553.3 1558.9L550.0 1578.9L542.2 1607.8L524.4 1654.4L513.3 1685.6L511.1 1730.0L511.1 1774.4L515.6 1796.7L511.1 1830.0L506.7 1847.8L504.4 1863.3L511.1 1876.7L520.0 1885.6L524.4 1896.7L586.7 1896.7L588.9 1881.1L591.1 1863.3L584.4 1847.8L575.6 1845.6L577.8 1838.9L584.4 1834.4L593.3 1818.9L600.0 1796.7L611.1 1778.9L615.6 1763.3L620.0 1736.7L631.1 1707.8L635.6 1674.4L638.9 1641.1L644.4 1607.8L648.9 1574.4L653.3 1558.9L662.2 1536.7L622.2 1536.7L622.2 1545.6L577.8 1553.3Z" fill="#787878"/>
<path d="M672.9 1896.7L672.2 1752.2L673.3 1663.3L675.6 1623.3L678.9 1596.7L677.8 1563.3L678.9 1536.7L703.3 1536.7L697.8 1556.7L693.3 1563.3L691.1 1596.7L690.0 1630.0L692.2 1654.4L694.4 1667.8L698.9 1654.4L704.4 1630.0L711.1 1603.3L713.3 1581.1L714.4 1603.3L716.7 1618.9L724.4 1585.6L726.7 1567.8L730.0 1562.2L736.7 1564.4L744.4 1561.1L751.1 1570.0L754.4 1556.7L758.9 1555.6L766.7 1562.2L771.1 1585.6L775.6 1618.9L780.0 1645.6L775.6 1667.8L773.3 1685.6L771.1 1707.8L768.9 1752.2L766.7 1796.7L768.9 1830.0L771.1 1852.2L773.3 1876.7L771.1 1896.7Z" fill="#787878"/>
<path d="M848.9 1536.7L848.9 1543.3L844.4 1558.9L835.6 1568.9L831.1 1558.9L825.6 1555.6L820.0 1563.3L815.6 1570.0L811.1 1558.9L806.7 1557.8L802.2 1563.3L800.0 1585.6L796.7 1618.9L793.3 1645.6L795.6 1672.2L802.2 1696.7L805.6 1705.6L811.1 1696.7L816.7 1663.3L820.0 1654.4L824.4 1660.0L828.9 1645.6L835.6 1623.3L844.4 1627.8L851.1 1641.1L857.8 1658.9L864.4 1672.2L871.1 1670.0L875.6 1665.6L882.2 1667.8L904.4 1668.9L913.3 1667.8L917.8 1672.2L926.7 1677.8L937.8 1670.0L948.9 1665.6L955.6 1662.2L962.2 1665.6L971.1 1663.3L980.0 1663.3L986.7 1654.4L991.1 1636.7L994.4 1631.1L1000.0 1633.3L1003.3 1630.0L1008.9 1638.9L1015.6 1641.1L1017.8 1647.8L1017.8 1674.4L1015.6 1676.7L1011.1 1661.1L1008.9 1663.3L1005.6 1681.1L1002.2 1696.7L1000.0 1712.2L1003.3 1730.0L1010.0 1740.0L1015.6 1730.0L1017.8 1725.6L1021.1 1741.1L1024.4 1718.9L1028.9 1718.9L1035.6 1685.6L1043.3 1682.2L1048.9 1696.7L1055.6 1707.8L1060.0 1711.1L1065.6 1702.2L1068.9 1710.0L1069.3 1774.4L1067.8 1827.8L1057.8 1805.6L1048.9 1803.3L1035.6 1810.0L1026.7 1823.3L1015.6 1818.9L1004.4 1825.6L993.3 1821.1L982.2 1827.8L968.9 1825.6L956.7 1832.2L948.9 1823.3L937.8 1812.2L933.3 1803.3L926.7 1792.2L920.0 1790.0L917.8 1758.9L915.6 1792.2L908.9 1796.7L900.0 1807.8L895.6 1816.7L891.1 1805.6L882.2 1818.9L873.3 1838.9L866.7 1830.0L863.3 1841.1L863.3 1896.7L1151.1 1896.7L1148.9 1885.6L1144.4 1876.7L1141.1 1863.3L1137.8 1841.1L1135.6 1796.7L1134.4 1752.2L1133.3 1707.8L1132.2 1667.8L1130.0 1645.6L1126.7 1627.8L1122.2 1623.3L1115.6 1615.6L1102.2 1607.8L1096.7 1585.6L1091.1 1563.3L1080.0 1550.0L1064.4 1543.3L1064.4 1536.7Z" fill="#787878"/>
<path d="M775.6 1896.7L776.7 1885.6L784.4 1890.0L797.8 1890.0L804.4 1876.7L808.9 1870.0L813.3 1885.6L811.1 1896.7Z" fill="#787878"/>
<path d="M1218.9 1536.7L1222.2 1552.2L1225.6 1558.9L1227.8 1596.7L1225.6 1630.0L1224.4 1663.3L1221.1 1707.8L1218.9 1752.2L1215.6 1796.7L1213.3 1830.0L1221.1 1841.1L1225.6 1852.2L1226.7 1876.7L1228.9 1896.7L1328.9 1896.7L1328.9 1536.7Z" fill="#787878"/>
<path d="M1237.8 1536.7L1237.8 1543.3L1246.7 1550.0L1253.3 1552.2L1260.0 1547.8L1261.1 1563.3L1262.2 1605.6L1271.1 1610.0L1282.2 1613.3L1293.3 1614.4L1300.0 1625.6L1308.9 1634.4L1317.8 1627.8L1328.9 1623.3L1328.9 1556.7L1306.7 1555.6L1300.0 1563.3L1293.3 1572.2L1280.0 1556.7L1271.1 1553.3L1263.3 1552.2L1262.2 1536.7Z" fill="#878787"/>
<path d="M1313.3 1896.7L1315.6 1872.2L1320.2 1863.3L1328.9 1863.3L1328.9 1896.7Z" fill="#878787"/>
<path d="M863.3 1601.1L867.8 1599.3L873.3 1604.4L868.9 1614.4L865.6 1613.3Z" fill="#686868"/>
<path d="M877.8 1604.4L886.7 1600.0L897.8 1592.2L906.7 1586.7L913.3 1588.2L922.2 1591.8L935.6 1594.4L942.2 1603.3L935.6 1616.7L926.7 1628.9L922.2 1623.3L911.1 1623.3L900.0 1616.7L888.9 1611.1Z" fill="#686868"/>
<path d="M798.9 1645.6L801.1 1627.8L804.4 1612.2L807.8 1625.6L810.0 1645.6L807.8 1667.8L804.4 1683.3L801.1 1667.8Z" fill="#686868"/>
<path d="M902.2 1841.1L908.9 1835.6L918.9 1828.9L926.7 1830.0L933.3 1830.0L937.8 1837.8L944.4 1838.9L947.8 1850.0L944.4 1867.8L937.8 1875.6L928.9 1870.0L918.9 1868.9L908.9 1856.7L904.4 1850.0Z" fill="#686868"/>
<path d="M868.9 1876.7L871.1 1863.3L875.6 1854.4L882.2 1863.3L888.9 1876.7L893.3 1883.3L888.9 1896.7L866.7 1896.7Z" fill="#878787"/>
<path d="M895.6 1883.3L898.9 1878.9L902.2 1883.3L906.7 1881.1L907.8 1885.6L900.0 1888.9Z" fill="#878787"/>
<path d="M946.7 1883.3L953.3 1863.3L960.0 1855.6L964.4 1867.8L968.9 1885.6L967.8 1896.7L948.9 1896.7Z" fill="#878787"/>
<path d="M986.7 1896.7L985.6 1881.1L991.1 1863.3L997.8 1855.6L1003.3 1867.8L1005.6 1883.3L1004.4 1896.7Z" fill="#878787"/>
<path d="M1016.7 1896.7L1017.8 1870.0L1024.4 1856.7L1033.3 1853.3L1044.4 1854.4L1045.6 1876.7L1042.2 1890.0L1026.7 1892.2Z" fill="#878787"/>
<path d="M1032.9 1882.2L1035.6 1873.3L1037.8 1883.3Z" fill="#979797"/>
<path d="M1055.6 1885.6L1060.0 1865.6L1071.1 1858.9L1080.0 1865.6L1084.4 1872.2L1097.8 1873.3L1106.7 1867.8L1113.3 1876.7L1115.6 1896.7L1097.8 1894.4L1084.4 1890.0L1071.1 1890.0L1057.8 1892.2Z" fill="#878787"/>
<path d="M1063.3 1881.1L1070.0 1876.7L1077.8 1882.2L1071.1 1885.6Z" fill="#979797"/>
<path d="M1098.9 1881.1L1104.4 1875.6L1107.8 1881.1L1106.7 1887.8L1102.2 1885.6Z" fill="#979797"/>
<path d="M1108.9 1883.3L1112.2 1878.9L1113.3 1887.8Z" fill="#a7a7a7"/>
<path d="M452.2 1581.1L460.0 1574.4L473.3 1568.2L482.2 1573.3L488.9 1585.6L495.6 1595.6L502.2 1591.1L508.9 1594.4L515.6 1592.2L521.1 1588.2L528.9 1592.2L532.9 1602.2L528.9 1612.2L521.1 1623.3L515.6 1616.7L511.1 1607.8L506.7 1623.3L504.4 1645.6L503.3 1685.6L504.4 1730.0L506.7 1763.3L504.4 1796.7L502.2 1818.9L504.4 1841.1L500.0 1852.2L488.9 1850.0L482.2 1830.0L473.3 1836.7L462.2 1850.0L453.3 1858.9L448.9 1852.2L444.4 1836.7L440.0 1796.7L435.6 1752.2L433.3 1707.8L436.7 1663.3L442.2 1618.9L447.8 1596.7Z" fill="#979797"/>
<path d="M447.8 1618.9L455.6 1605.6L466.7 1596.7L476.7 1592.7L483.3 1598.9L487.8 1614.4L491.1 1627.8L495.6 1654.4L500.0 1685.6L502.2 1718.9L501.1 1752.2L503.3 1774.4L501.1 1807.8L497.8 1825.6L493.3 1841.1L486.7 1836.7L482.2 1825.6L475.6 1827.8L464.4 1841.1L454.4 1852.2L450.0 1841.1L445.6 1818.9L441.1 1774.4L437.8 1730.0L437.8 1685.6L442.2 1645.6Z" fill="#a7a7a7"/>
<path d="M450.0 1636.7L457.8 1621.1L468.9 1617.8L477.8 1615.6L483.3 1623.3L487.8 1645.6L492.2 1672.2L497.8 1698.9L500.0 1730.0L497.8 1763.3L498.9 1785.6L496.7 1807.8L492.2 1821.1L487.8 1807.8L483.3 1803.3L477.8 1816.7L466.7 1825.6L457.8 1836.7L452.2 1841.1L447.8 1818.9L443.3 1774.4L440.0 1730.0L441.1 1685.6L444.4 1658.9Z" fill="#b7b7b7"/>
<path d="M452.2 1645.6L460.0 1636.7L471.1 1640.0L480.0 1638.9L485.6 1654.4L488.9 1685.6L491.1 1718.9L488.9 1752.2L486.7 1774.4L484.4 1796.7L481.1 1803.3L477.8 1774.4L475.6 1754.4L473.3 1785.6L468.9 1803.3L462.2 1814.4L455.6 1825.6L450.0 1834.4L446.7 1807.8L443.3 1763.3L442.2 1718.9L444.4 1685.6L447.8 1663.3Z" fill="#c7c7c7"/>
<path d="M452.2 1698.9L459.6 1680.0L465.6 1698.9L466.7 1718.9L463.3 1743.3L460.0 1774.4L456.7 1792.2L452.2 1803.3L450.0 1774.4L450.7 1730.0Z" fill="#d7d7d7"/>
<path d="M416.7 1870.0L422.2 1858.9L428.9 1856.7L433.3 1863.3L442.2 1867.8L444.4 1876.7L437.8 1885.6L431.1 1896.7L408.9 1896.7L408.9 1872.2Z" fill="#979797"/>
<path d="M422.2 1867.8L427.8 1864.4L431.1 1872.2L430.0 1885.6L425.6 1890.0L422.2 1881.1Z" fill="#a7a7a7"/>
<path d="M426.2 1874.4L428.9 1872.2L429.6 1883.3L427.1 1886.7Z" fill="#b7b7b7"/>
<path d="M453.3 1863.3L460.0 1850.0L473.3 1836.7L481.1 1827.8L485.6 1841.1L487.8 1858.9L488.9 1872.2L482.2 1876.7L482.2 1885.6L460.0 1881.1L455.6 1872.2Z" fill="#787878"/>
<path d="M456.7 1863.3L463.3 1852.2L475.6 1841.1L481.1 1834.4L484.4 1847.8L486.2 1870.0L482.2 1874.4L481.1 1881.1L464.4 1878.9L458.2 1871.1Z" fill="#686868"/>
<path d="M460.0 1865.6L466.7 1854.4L476.7 1845.6L481.1 1841.1L484.0 1852.2L485.1 1867.8L481.1 1872.2L480.0 1878.9L466.7 1876.7L461.8 1871.1Z" fill="#585858"/>
<path d="M464.4 1863.3L471.1 1854.4L477.8 1847.8L481.1 1845.6L483.3 1856.7L484.0 1865.6L480.0 1870.0L471.1 1872.2L465.6 1870.0Z" fill="#484848"/>
<path d="M475.6 1856.7L480.0 1845.6L482.7 1852.2L483.3 1863.3L480.0 1867.8L476.7 1863.3Z" fill="#383838"/>
<path d="M478.9 1854.4L481.1 1850.0L482.2 1858.9L480.4 1863.3Z" fill="#282828"/>
<path d="M488.2 1850.0L490.0 1847.8L491.6 1863.3L490.0 1872.2L488.4 1863.3Z" fill="#b7b7b7"/>
<path d="M508.9 1881.1L513.3 1875.6L517.8 1883.3L521.1 1896.7L515.6 1896.7Z" fill="#a7a7a7"/>
<path d="M555.6 1587.8L566.7 1581.1L588.9 1576.7L611.1 1574.4L628.9 1571.1L634.4 1576.7L635.6 1596.7L631.1 1623.3L624.4 1654.4L613.3 1672.2L608.9 1698.9L607.8 1730.0L604.4 1752.2L602.2 1785.6L595.6 1807.8L586.7 1823.3L573.3 1832.2L575.6 1841.1L584.4 1850.0L586.7 1867.8L584.4 1883.3L573.3 1887.8L555.6 1886.7L537.8 1890.0L526.7 1885.6L520.0 1876.7L515.6 1863.3L511.1 1856.7L512.2 1845.6L517.8 1836.7L524.4 1818.9L520.0 1796.7L515.6 1785.6L514.4 1752.2L515.6 1707.8L523.3 1674.4L533.3 1645.6L544.4 1618.9L551.1 1601.1Z" fill="#686868"/>
<path d="M555.6 1610.0L568.9 1601.1L588.9 1598.9L613.3 1596.7L622.2 1594.4L631.1 1598.9L631.1 1614.4L625.6 1636.7L620.0 1661.1L608.9 1663.3L606.7 1685.6L604.4 1721.1L601.1 1752.2L598.9 1778.9L593.3 1796.7L584.4 1814.4L571.1 1821.1L564.4 1841.1L573.3 1847.8L582.2 1858.9L584.4 1872.2L577.8 1881.1L555.6 1883.3L537.8 1885.6L527.8 1881.1L521.1 1867.8L520.0 1856.7L524.4 1845.6L533.3 1818.9L526.7 1796.7L524.4 1752.2L525.6 1707.8L531.1 1676.7L542.2 1645.6L548.9 1625.6Z" fill="#585858"/>
<path d="M560.0 1621.1L568.9 1615.6L580.0 1618.9L588.9 1630.0L595.6 1645.6L597.8 1685.6L598.9 1730.0L597.8 1763.3L595.6 1778.9L588.9 1796.7L577.8 1810.0L566.7 1816.7L562.2 1841.1L571.1 1858.9L580.0 1867.8L577.8 1876.7L555.6 1881.1L540.0 1881.1L531.1 1874.4L524.4 1863.3L526.7 1852.2L535.6 1841.1L537.8 1818.9L533.3 1785.6L531.1 1752.2L531.1 1707.8L537.8 1674.4L546.7 1645.6L555.6 1627.8Z" fill="#484848"/>
<path d="M564.4 1627.8L571.1 1625.6L577.8 1632.2L585.6 1650.0L591.1 1672.2L593.3 1707.8L594.4 1752.2L591.1 1774.4L584.4 1785.6L575.6 1796.7L566.7 1807.8L560.0 1825.6L557.8 1841.1L564.4 1858.9L568.9 1876.7L555.6 1877.8L542.2 1876.7L542.2 1858.9L544.4 1841.1L542.2 1807.8L538.9 1774.4L534.4 1730.0L535.6 1696.7L542.2 1667.8L553.3 1645.6Z" fill="#383838"/>
<path d="M564.4 1650.0L568.9 1645.6L574.4 1654.4L580.0 1676.7L584.4 1707.8L585.6 1741.1L582.2 1763.3L575.6 1781.1L568.9 1785.6L557.8 1788.9L551.1 1781.1L546.7 1752.2L542.2 1718.9L543.3 1685.6L551.1 1663.3Z" fill="#282828"/>
<path d="M545.6 1858.9L547.8 1841.1L551.1 1827.8L555.6 1841.1L558.9 1858.9L555.6 1876.7L551.1 1883.3L546.7 1872.2Z" fill="#282828"/>
<path d="M555.6 1681.1L562.2 1676.7L568.9 1667.8L574.4 1676.7L577.8 1703.3L580.0 1730.0L577.8 1756.7L571.1 1765.6L564.4 1758.9L557.8 1756.7L554.4 1741.1L551.1 1721.1L550.0 1698.9Z" fill="#181818"/>
<path d="M565.6 1705.6L569.3 1696.7L572.9 1707.8L572.2 1718.9L569.3 1724.4L566.2 1716.7Z" fill="#080808"/>
<path d="M617.8 1781.1L624.4 1778.9L631.1 1785.6L633.3 1807.8L642.2 1818.9L651.1 1816.7L655.6 1825.6L644.4 1841.1L651.1 1852.2L655.6 1858.9L653.3 1876.7L644.4 1876.7L635.6 1885.6L622.2 1883.3L613.3 1872.2L608.9 1883.3L604.4 1876.7L597.8 1858.9L596.7 1845.6L600.0 1836.7L611.1 1823.3L616.7 1807.8Z" fill="#979797"/>
<path d="M630.0 1832.2L632.2 1827.8L634.4 1841.1L633.3 1872.2L631.1 1863.3Z" fill="#a7a7a7"/>
<path d="M651.1 1596.7L657.8 1578.9L664.4 1572.2L670.0 1581.1L672.2 1618.9L672.9 1685.6L672.9 1752.2L670.0 1792.2L664.4 1805.6L660.0 1794.4L653.3 1763.3L642.2 1741.1L638.9 1712.2L641.1 1674.4L644.4 1641.1Z" fill="#979797"/>
<path d="M655.6 1618.9L661.1 1601.1L664.4 1596.7L667.8 1607.8L670.0 1641.1L671.1 1707.8L670.0 1763.3L666.7 1792.2L663.3 1794.4L658.9 1772.2L652.2 1741.1L645.6 1725.6L643.3 1703.3L645.6 1674.4L650.0 1645.6Z" fill="#a7a7a7"/>
<path d="M656.7 1641.1L661.1 1627.8L664.4 1634.4L667.8 1663.3L669.3 1707.8L668.4 1752.2L665.6 1774.4L662.2 1781.1L657.8 1752.2L652.2 1730.0L647.8 1707.8L648.9 1681.1L653.3 1658.9Z" fill="#b7b7b7"/>
<path d="M658.9 1663.3L662.2 1656.7L665.6 1674.4L667.1 1707.8L666.2 1743.3L663.3 1761.1L660.0 1743.3L656.7 1712.2L656.7 1685.6Z" fill="#c7c7c7"/>
<path d="M701.1 1601.1L705.6 1599.3L706.7 1606.7L702.7 1608.9Z" fill="#979797"/>
<path d="M673.8 1894.4L673.3 1752.2L675.1 1674.4L677.8 1630.0L679.6 1618.9L682.2 1634.4L684.4 1663.3L688.9 1685.6L693.3 1692.2L697.8 1676.7L703.3 1654.4L707.8 1630.0L712.2 1618.9L715.6 1641.1L717.3 1641.1L722.2 1623.3L728.9 1612.2L737.8 1615.6L748.9 1618.9L753.3 1607.8L756.0 1601.1L760.0 1610.0L765.6 1625.6L770.0 1654.4L771.1 1685.6L766.7 1707.8L766.7 1752.2L764.4 1796.7L766.7 1830.0L768.9 1852.2L771.1 1876.7L766.7 1892.2L748.9 1890.0L726.7 1885.6L704.4 1890.0L684.4 1890.0Z" fill="#686868"/>
<path d="M675.6 1863.3L674.7 1752.2L676.0 1685.6L678.2 1661.1L681.1 1674.4L682.2 1703.3L688.9 1703.3L693.3 1710.0L697.8 1696.7L703.3 1672.2L707.8 1645.6L712.2 1634.4L715.6 1654.4L718.2 1656.7L723.3 1634.4L730.0 1628.9L737.8 1634.4L746.7 1641.1L752.2 1634.4L755.6 1621.1L760.0 1625.6L764.4 1645.6L767.8 1667.8L766.7 1698.9L763.3 1730.0L763.3 1774.4L762.2 1807.8L764.4 1836.7L767.8 1858.9L768.9 1876.7L764.4 1887.8L748.9 1887.8L740.0 1876.7L735.6 1841.1L726.7 1836.7L722.2 1841.1L720.0 1885.6L704.4 1887.8L686.7 1885.6L682.2 1863.3Z" fill="#585858"/>
<path d="M680.0 1863.3L677.8 1818.9L677.8 1763.3L679.6 1730.0L682.2 1712.2L687.8 1721.1L691.1 1725.6L697.8 1718.9L702.2 1698.9L706.7 1667.8L710.0 1647.8L713.3 1647.8L715.6 1667.8L718.2 1667.8L723.3 1650.0L730.0 1645.6L735.6 1654.4L738.9 1674.4L741.1 1707.8L742.2 1752.2L745.6 1774.4L748.9 1752.2L751.1 1707.8L752.2 1663.3L754.4 1636.7L758.9 1634.4L762.7 1654.4L764.4 1685.6L762.7 1730.0L761.1 1774.4L760.0 1807.8L763.3 1841.1L765.6 1863.3L764.4 1878.9L757.8 1885.6L748.9 1885.6L743.3 1867.8L740.0 1841.1L735.6 1823.3L726.7 1825.6L718.2 1818.9L716.7 1863.3L715.6 1887.8L704.4 1885.6L688.9 1881.1Z" fill="#484848"/>
<path d="M722.2 1845.6L735.6 1841.1L738.9 1876.7L735.6 1885.6L722.2 1885.6Z" fill="#686868"/>
<path d="M726.7 1863.3L729.3 1852.2L732.2 1856.7L732.9 1872.2L730.0 1878.9Z" fill="#787878"/>
<path d="M685.6 1858.9L684.4 1818.9L685.6 1774.4L690.0 1747.8L696.7 1730.0L703.3 1712.2L707.8 1685.6L710.0 1663.3L712.2 1654.4L714.4 1685.6L715.6 1730.0L717.3 1707.8L720.0 1685.6L724.4 1674.4L730.0 1673.3L734.4 1685.6L737.8 1718.9L738.9 1752.2L736.7 1785.6L733.3 1807.8L726.7 1812.2L720.0 1774.4L717.3 1752.2L716.0 1796.7L715.6 1863.3L714.4 1883.3L704.4 1883.3L691.1 1876.7Z" fill="#383838"/>
<path d="M753.3 1685.6L755.1 1654.4L757.8 1645.6L760.4 1663.3L761.8 1707.8L760.0 1752.2L757.8 1774.4L755.1 1752.2L753.3 1718.9Z" fill="#383838"/>
<path d="M747.8 1830.0L753.3 1818.9L757.8 1825.6L762.2 1850.0L762.7 1872.2L757.8 1881.1L748.9 1883.3L745.6 1863.3Z" fill="#383838"/>
<path d="M753.3 1845.6L756.0 1841.1L757.8 1858.9L756.0 1863.3Z" fill="#282828"/>
<path d="M690.0 1852.2L688.9 1818.9L692.2 1803.3L698.9 1787.8L702.2 1781.1L707.8 1752.2L710.0 1707.8L711.6 1685.6L713.3 1690.0L714.4 1730.0L715.1 1796.7L714.4 1863.3L712.2 1878.9L704.4 1878.9L693.3 1872.2Z" fill="#282828"/>
<path d="M709.3 1663.3L711.6 1651.1L713.3 1663.3L714.0 1698.9L710.7 1698.9Z" fill="#282828"/>
<path d="M693.3 1845.6L693.3 1823.3L697.8 1807.8L702.2 1803.3L707.8 1816.7L710.0 1774.4L711.6 1734.4L713.3 1730.0L714.0 1796.7L713.3 1852.2L710.0 1867.8L703.3 1872.2L696.7 1863.3Z" fill="#181818"/>
<path d="M695.6 1841.1L697.8 1827.8L701.1 1830.0L703.3 1845.6L702.2 1858.9L698.9 1863.3L696.0 1854.4Z" fill="#080808"/>
<path d="M773.3 1707.8L780.0 1698.9L787.8 1681.1L791.1 1690.0L795.6 1705.6L804.4 1732.2L813.3 1721.1L820.0 1701.1L824.4 1705.6L828.9 1690.0L834.4 1674.4L844.4 1683.3L853.3 1685.6L857.8 1707.8L862.2 1730.0L864.4 1752.2L862.2 1785.6L857.8 1818.9L853.3 1841.1L848.9 1858.9L853.3 1865.6L857.8 1867.8L857.3 1873.3L851.1 1872.2L842.2 1883.3L835.6 1878.9L831.1 1867.8L822.2 1863.3L815.6 1867.8L811.1 1858.9L806.7 1841.1L800.0 1850.0L791.1 1856.7L784.4 1852.2L777.8 1841.1L773.3 1818.9L771.1 1774.4L772.2 1730.0Z" fill="#979797"/>
<path d="M774.4 1741.1L780.0 1725.6L788.9 1705.6L793.3 1718.9L800.0 1741.1L804.4 1752.2L806.7 1774.4L811.1 1763.3L815.6 1761.1L819.6 1754.4L820.4 1774.4L818.9 1798.9L813.3 1805.6L808.9 1796.7L805.6 1814.4L802.2 1830.0L793.3 1850.0L786.7 1852.2L780.0 1838.9L775.6 1818.9L773.3 1785.6Z" fill="#a7a7a7"/>
<path d="M830.0 1743.3L834.9 1723.3L840.0 1743.3L843.3 1770.0L844.4 1787.8L841.1 1818.9L837.8 1845.6L835.1 1856.7L832.2 1841.1L830.0 1807.8L828.9 1774.4Z" fill="#a7a7a7"/>
<path d="M777.8 1756.7L783.3 1743.3L788.9 1728.9L792.2 1743.3L795.6 1763.3L797.8 1785.6L796.7 1807.8L792.2 1827.8L785.6 1837.8L780.0 1825.6L776.7 1807.8L775.1 1785.6Z" fill="#b7b7b7"/>
<path d="M782.2 1781.1L785.6 1767.8L788.9 1753.3L791.1 1770.0L792.2 1787.8L790.0 1801.1L787.1 1802.2L784.0 1794.4Z" fill="#c7c7c7"/>
<path d="M872.2 1714.4L876.7 1704.4L884.4 1710.0L885.6 1752.2L880.0 1765.6L876.7 1794.4L872.2 1787.8Z" fill="#979797"/>
<path d="M1084.4 1654.4L1092.7 1643.8L1104.4 1652.2L1113.3 1638.9L1119.3 1630.0L1125.6 1641.1L1128.9 1654.4L1131.1 1685.6L1132.2 1730.0L1131.1 1774.4L1133.3 1818.9L1136.7 1863.3L1137.8 1885.6L1135.6 1896.7L1115.6 1896.7L1113.3 1876.7L1108.9 1863.3L1097.8 1863.3L1088.9 1858.9L1085.6 1852.2L1087.8 1818.9L1088.9 1774.4L1086.7 1730.0L1082.2 1685.6Z" fill="#686868"/>
<path d="M1091.1 1841.1L1092.7 1785.6L1094.4 1841.1L1092.9 1850.0Z" fill="#787878"/>
<path d="M1098.9 1818.9L1100.4 1787.8L1102.2 1818.9L1100.7 1825.6Z" fill="#787878"/>
<path d="M1105.6 1814.4L1107.8 1803.3L1110.0 1818.9L1107.8 1825.6Z" fill="#787878"/>
<path d="M1105.6 1712.2L1107.8 1676.7L1113.3 1656.7L1119.3 1644.4L1125.6 1654.4L1128.9 1674.4L1130.7 1707.8L1130.0 1752.2L1128.9 1796.7L1131.1 1841.1L1134.4 1863.3L1135.6 1885.6L1133.3 1896.7L1116.7 1896.7L1114.4 1876.7L1113.3 1841.1L1113.3 1796.7L1110.0 1752.2Z" fill="#585858"/>
<path d="M1108.9 1712.2L1111.1 1681.1L1115.6 1663.3L1120.0 1656.7L1125.6 1667.8L1127.8 1685.6L1128.9 1718.9L1127.8 1752.2L1126.7 1796.7L1127.8 1841.1L1132.2 1863.3L1134.4 1885.6L1132.2 1896.7L1117.8 1896.7L1116.0 1876.7L1115.6 1841.1L1115.6 1796.7L1113.3 1752.2Z" fill="#484848"/>
<path d="M1112.2 1712.2L1114.4 1685.6L1117.8 1670.0L1121.8 1665.6L1125.6 1676.7L1127.1 1707.8L1126.2 1752.2L1124.9 1796.7L1125.6 1841.1L1128.9 1863.3L1132.2 1876.7L1134.4 1890.0L1132.2 1896.7L1118.2 1896.7L1116.7 1876.7L1117.8 1841.1L1118.2 1796.7L1115.6 1752.2Z" fill="#383838"/>
<path d="M1118.9 1712.2L1121.1 1694.4L1123.3 1696.7L1124.4 1718.9L1124.0 1752.2L1123.3 1796.7L1124.0 1841.1L1126.7 1863.3L1130.0 1872.2L1133.3 1885.6L1132.2 1896.7L1118.9 1896.7L1117.8 1876.7L1120.0 1841.1L1121.1 1796.7L1120.0 1752.2Z" fill="#282828"/>
<path d="M1118.9 1876.7L1122.2 1863.3L1125.6 1867.8L1128.9 1872.2L1132.2 1881.1L1132.9 1896.7L1119.6 1896.7Z" fill="#181818"/>
<path d="M1128.9 1883.3L1131.1 1876.7L1133.3 1885.6L1132.9 1894.4L1129.3 1894.4Z" fill="#080808"/>
<path d="M1120.4 1858.9L1121.8 1818.9L1124.0 1807.8L1125.6 1818.9L1126.2 1852.2L1124.0 1863.3Z" fill="#7e7e7e"/>
<path d="M1132.4 1785.6L1134.2 1774.4L1136.0 1818.9L1137.8 1863.3L1138.2 1896.7L1133.8 1896.7L1134.2 1852.2L1133.3 1818.9Z" fill="#585858"/>
<path d="M1134.2 1841.1L1135.6 1836.7L1137.1 1876.7L1137.1 1896.7L1134.7 1896.7Z" fill="#383838"/>
<path d="M1128.0 1818.9L1130.2 1761.1L1132.4 1796.7L1133.8 1841.1L1131.6 1852.2L1128.9 1843.3Z" fill="#a7a7a7"/>
<path d="M1129.1 1818.9L1130.4 1774.4L1132.0 1807.8L1132.9 1841.1L1131.1 1848.9L1129.6 1838.9Z" fill="#c7c7c7"/>
<path d="M1130.0 1830.0L1130.9 1796.7L1132.0 1830.0L1131.3 1843.3Z" fill="#d7d7d7"/>
<path d="M1137.8 1641.1L1140.0 1607.8L1144.4 1578.9L1150.0 1568.2L1154.4 1572.2L1160.0 1583.3L1168.9 1585.6L1173.3 1596.7L1182.2 1612.2L1193.3 1607.8L1198.9 1618.9L1203.3 1630.0L1206.2 1612.2L1210.0 1636.7L1213.3 1685.6L1216.7 1730.0L1217.8 1763.3L1213.3 1796.7L1211.1 1830.0L1208.9 1852.2L1204.4 1876.7L1195.6 1890.0L1195.6 1896.7L1151.1 1896.7L1148.9 1876.7L1142.2 1841.1L1137.8 1796.7L1135.6 1752.2L1136.7 1685.6Z" fill="#979797"/>
<path d="M1141.1 1654.4L1143.3 1625.6L1148.9 1604.4L1153.3 1605.6L1157.8 1616.7L1164.4 1618.9L1173.3 1621.1L1180.0 1636.7L1188.9 1645.6L1194.4 1642.2L1200.0 1654.4L1203.3 1674.4L1207.8 1674.4L1210.0 1707.8L1212.2 1741.1L1211.1 1774.4L1208.9 1807.8L1207.8 1841.1L1204.4 1867.8L1197.8 1885.6L1193.3 1890.0L1153.3 1890.0L1151.1 1867.8L1144.4 1836.7L1141.1 1796.7L1138.9 1752.2L1140.0 1696.7Z" fill="#a7a7a7"/>
<path d="M1148.9 1807.8L1145.6 1774.4L1144.4 1730.0L1148.9 1698.9L1155.6 1672.2L1157.8 1650.0L1164.4 1640.0L1170.0 1641.1L1174.4 1650.0L1180.0 1663.3L1186.7 1674.4L1194.4 1673.3L1198.9 1690.0L1202.2 1707.8L1205.6 1730.0L1206.7 1763.3L1203.3 1796.7L1201.1 1825.6L1204.4 1841.1L1207.8 1852.2L1204.4 1870.0L1195.6 1885.6L1182.2 1883.3L1178.9 1867.8L1173.3 1858.9L1170.0 1876.7L1160.0 1883.3L1155.6 1863.3L1152.2 1841.1Z" fill="#b7b7b7"/>
<path d="M1151.1 1796.7L1148.9 1763.3L1152.2 1725.6L1158.9 1685.6L1162.2 1667.8L1166.7 1658.9L1171.1 1661.1L1176.7 1674.4L1182.2 1685.6L1186.7 1698.9L1192.2 1703.3L1196.7 1714.4L1201.1 1741.1L1202.2 1770.0L1197.8 1785.6L1193.3 1796.7L1188.9 1787.8L1186.7 1803.3L1182.2 1818.9L1175.6 1832.2L1170.0 1841.1L1166.7 1863.3L1160.0 1876.7L1156.7 1854.4L1153.3 1825.6Z" fill="#c7c7c7"/>
<path d="M1182.2 1876.7L1184.4 1854.4L1191.1 1845.6L1195.6 1836.7L1201.1 1841.1L1204.4 1852.2L1202.2 1867.8L1193.3 1883.3L1186.7 1885.6Z" fill="#c7c7c7"/>
<path d="M1164.4 1698.9L1168.9 1694.4L1174.4 1701.1L1177.8 1718.9L1178.9 1752.2L1177.8 1781.1L1175.6 1790.0L1171.1 1787.8L1168.9 1781.1L1166.7 1796.7L1164.4 1801.1L1162.7 1774.4L1161.1 1752.2L1162.2 1725.6Z" fill="#d7d7d7"/>
<path d="M1122.7 1595.6L1130.7 1587.8L1132.2 1605.6L1130.0 1612.2L1123.3 1604.4Z" fill="#979797"/>
<path d="M1175.1 1876.7L1176.7 1850.0L1178.2 1876.7L1177.3 1896.7L1175.6 1896.7Z" fill="#878787"/>
<path d="M1211.1 1881.1L1215.6 1845.6L1222.2 1858.9L1222.2 1885.6L1215.6 1894.4Z" fill="#979797"/>
<path d="M1213.3 1876.7L1216.7 1852.2L1220.0 1863.3L1218.9 1881.1L1215.6 1885.6Z" fill="#b7b7b7"/>
<path d="M1223.3 1885.6L1225.1 1867.8L1226.7 1881.1L1226.7 1896.7L1224.4 1896.7Z" fill="#b7b7b7"/>
<path d="M1230.0 1774.4L1232.2 1730.0L1236.7 1685.6L1241.1 1656.7L1245.6 1648.2L1253.3 1655.6L1264.4 1654.4L1275.6 1658.9L1288.9 1663.3L1300.0 1670.0L1311.1 1683.3L1313.3 1707.8L1310.0 1752.2L1312.2 1785.6L1317.8 1803.3L1320.2 1841.1L1315.6 1863.3L1302.2 1883.3L1282.2 1890.0L1248.9 1891.1L1235.6 1885.6L1231.1 1867.8L1234.4 1841.1L1230.0 1818.9L1227.8 1796.7Z" fill="#686868"/>
<path d="M1237.8 1796.7L1240.0 1752.2L1243.3 1718.9L1246.7 1698.9L1257.8 1687.8L1267.8 1680.7L1277.8 1683.3L1288.9 1698.9L1297.8 1710.0L1298.9 1730.0L1297.8 1763.3L1300.0 1785.6L1305.6 1807.8L1306.7 1836.7L1297.8 1858.9L1293.3 1876.7L1280.0 1884.4L1248.9 1885.6L1236.7 1881.1L1233.3 1867.8L1240.0 1852.2L1241.1 1830.0Z" fill="#585858"/>
<path d="M1246.7 1752.2L1251.1 1730.0L1257.8 1718.9L1263.3 1707.8L1268.9 1704.4L1275.6 1712.2L1280.0 1730.0L1283.3 1752.2L1281.1 1785.6L1280.0 1814.4L1286.7 1830.0L1291.1 1841.1L1288.9 1863.3L1277.8 1876.7L1248.9 1883.3L1237.8 1878.9L1234.4 1867.8L1244.4 1858.9L1255.6 1841.1L1262.2 1830.0L1260.0 1801.1L1250.0 1785.6Z" fill="#484848"/>
<path d="M1261.1 1863.3L1267.8 1854.4L1271.1 1845.6L1274.4 1858.9L1275.6 1870.0L1266.7 1872.2L1257.8 1871.1L1248.9 1870.0L1241.1 1870.0L1242.2 1867.8L1251.1 1866.7Z" fill="#383838"/>
</g>
<path d="M436.2 1883.3L482.2 1883.3L482.2 1870.0L504.4 1870.0L504.4 1883.3L515.6 1883.3L515.6 1897.8L436.2 1897.8Z" fill="#000"/>
<path d="M664.0 1883.3L675.1 1883.3L675.1 1897.8L664.0 1897.8Z" fill="#000"/>
<path d="M1123.3 1883.3L1194.9 1883.3L1194.9 1897.8L1123.3 1897.8Z" fill="#000"/></g>
<rect x="414.0" y="1542.0" width="906.3" height="353.1" fill="none" stroke="#000" stroke-width="2.8"/>
<path d="M414.0 1542.0v-20.5M414.0 1895.1v21" stroke="#000" stroke-width="2.8" stroke-linecap="round" fill="none"/>
<path d="M489.8 1542.0v-11M489.8 1895.1v11.5" stroke="#000" stroke-width="1.3" fill="none"/>
<path d="M565.5 1542.0v-20.5M565.5 1895.1v21" stroke="#000" stroke-width="2.8" stroke-linecap="round" fill="none"/>
<path d="M641.2 1542.0v-11M641.2 1895.1v11.5" stroke="#000" stroke-width="1.3" fill="none"/>
<path d="M717.0 1542.0v-20.5M717.0 1895.1v21" stroke="#000" stroke-width="2.8" stroke-linecap="round" fill="none"/>
<path d="M792.8 1542.0v-11M792.8 1895.1v11.5" stroke="#000" stroke-width="1.3" fill="none"/>
<path d="M868.5 1542.0v-20.5M868.5 1895.1v21" stroke="#000" stroke-width="2.8" stroke-linecap="round" fill="none"/>
<path d="M944.2 1542.0v-11M944.2 1895.1v11.5" stroke="#000" stroke-width="1.3" fill="none"/>
<path d="M1020.0 1542.0v-20.5M1020.0 1895.1v21" stroke="#000" stroke-width="2.8" stroke-linecap="round" fill="none"/>
<path d="M1095.8 1542.0v-11M1095.8 1895.1v11.5" stroke="#000" stroke-width="1.3" fill="none"/>
<path d="M1171.5 1542.0v-20.5M1171.5 1895.1v21" stroke="#000" stroke-width="2.8" stroke-linecap="round" fill="none"/>
<path d="M1247.2 1542.0v-11M1247.2 1895.1v11.5" stroke="#000" stroke-width="1.3" fill="none"/>
<path d="M414.0 1542.0h-21.5" stroke="#000" stroke-width="2.8" stroke-linecap="round" fill="none"/>
<text x="378.5" y="1550.6" font-family="Liberation Sans, sans-serif" font-size="23.3" text-anchor="end" textLength="48.0" lengthAdjust="spacingAndGlyphs" stroke="#fff" stroke-width="0.20" paint-order="fill stroke"  xml:space="preserve">100</text>
<path d="M414.0 1604.2h-21.5" stroke="#000" stroke-width="2.8" stroke-linecap="round" fill="none"/>
<text x="378.5" y="1612.8" font-family="Liberation Sans, sans-serif" font-size="23.3" text-anchor="end" textLength="48.0" lengthAdjust="spacingAndGlyphs" stroke="#fff" stroke-width="0.20" paint-order="fill stroke"  xml:space="preserve">150</text>
<path d="M414.0 1648.3h-21.5" stroke="#000" stroke-width="2.8" stroke-linecap="round" fill="none"/>
<text x="378.5" y="1656.9" font-family="Liberation Sans, sans-serif" font-size="23.3" text-anchor="end" textLength="48.0" lengthAdjust="spacingAndGlyphs" stroke="#fff" stroke-width="0.20" paint-order="fill stroke"  xml:space="preserve">200</text>
<path d="M414.0 1682.5h-21.5" stroke="#000" stroke-width="2.8" stroke-linecap="round" fill="none"/>
<text x="378.5" y="1691.1" font-family="Liberation Sans, sans-serif" font-size="23.3" text-anchor="end" textLength="48.0" lengthAdjust="spacingAndGlyphs" stroke="#fff" stroke-width="0.20" paint-order="fill stroke"  xml:space="preserve">250</text>
<path d="M414.0 1710.5h-21.5" stroke="#000" stroke-width="2.8" stroke-linecap="round" fill="none"/>
<text x="378.5" y="1719.1" font-family="Liberation Sans, sans-serif" font-size="23.3" text-anchor="end" textLength="48.0" lengthAdjust="spacingAndGlyphs" stroke="#fff" stroke-width="0.20" paint-order="fill stroke"  xml:space="preserve">300</text>
<path d="M414.0 1754.6h-21.5" stroke="#000" stroke-width="2.8" stroke-linecap="round" fill="none"/>
<text x="378.5" y="1763.2" font-family="Liberation Sans, sans-serif" font-size="23.3" text-anchor="end" textLength="48.0" lengthAdjust="spacingAndGlyphs" stroke="#fff" stroke-width="0.20" paint-order="fill stroke"  xml:space="preserve">400</text>
<path d="M414.0 1788.8h-21.5" stroke="#000" stroke-width="2.8" stroke-linecap="round" fill="none"/>
<text x="378.5" y="1797.4" font-family="Liberation Sans, sans-serif" font-size="23.3" text-anchor="end" textLength="48.0" lengthAdjust="spacingAndGlyphs" stroke="#fff" stroke-width="0.20" paint-order="fill stroke"  xml:space="preserve">500</text>
<path d="M414.0 1840.4h-21.5" stroke="#000" stroke-width="2.8" stroke-linecap="round" fill="none"/>
<text x="378.5" y="1849.0" font-family="Liberation Sans, sans-serif" font-size="23.3" text-anchor="end" textLength="48.0" lengthAdjust="spacingAndGlyphs" stroke="#fff" stroke-width="0.20" paint-order="fill stroke"  xml:space="preserve">700</text>
<path d="M414.0 1870.2h-21.5" stroke="#000" stroke-width="2.8" stroke-linecap="round" fill="none"/>
<text x="378.5" y="1878.8" font-family="Liberation Sans, sans-serif" font-size="23.3" text-anchor="end" textLength="48.0" lengthAdjust="spacingAndGlyphs" stroke="#fff" stroke-width="0.20" paint-order="fill stroke"  xml:space="preserve">850</text>
<path d="M414.0 1895.1h-21.5" stroke="#000" stroke-width="2.8" stroke-linecap="round" fill="none"/>
<text x="378.5" y="1903.7" font-family="Liberation Sans, sans-serif" font-size="23.3" text-anchor="end" textLength="63.5" lengthAdjust="spacingAndGlyphs" stroke="#fff" stroke-width="0.20" paint-order="fill stroke"  xml:space="preserve">1000</text>
<path d="M1320.3 1547.8h21.5" stroke="#000" stroke-width="2.8" stroke-linecap="round" fill="none"/>
<text x="1355.5" y="1556.4" font-family="Liberation Sans, sans-serif" font-size="23.3" text-anchor="start" textLength="30.0" lengthAdjust="spacingAndGlyphs" stroke="#fff" stroke-width="0.20" paint-order="fill stroke"  xml:space="preserve">16</text>
<path d="M1320.3 1643.2h21.5" stroke="#000" stroke-width="2.8" stroke-linecap="round" fill="none"/>
<text x="1355.5" y="1651.8" font-family="Liberation Sans, sans-serif" font-size="23.3" text-anchor="start" textLength="30.0" lengthAdjust="spacingAndGlyphs" stroke="#fff" stroke-width="0.20" paint-order="fill stroke"  xml:space="preserve">12</text>
<path d="M1320.3 1737.2h21.5" stroke="#000" stroke-width="2.8" stroke-linecap="round" fill="none"/>
<text x="1355.5" y="1745.8" font-family="Liberation Sans, sans-serif" font-size="23.3" text-anchor="start" textLength="15.0" lengthAdjust="spacingAndGlyphs" stroke="#fff" stroke-width="0.20" paint-order="fill stroke"  xml:space="preserve">8</text>
<path d="M1320.3 1821.2h21.5" stroke="#000" stroke-width="2.8" stroke-linecap="round" fill="none"/>
<text x="1355.5" y="1829.8" font-family="Liberation Sans, sans-serif" font-size="23.3" text-anchor="start" textLength="15.0" lengthAdjust="spacingAndGlyphs" stroke="#fff" stroke-width="0.20" paint-order="fill stroke"  xml:space="preserve">4</text>
<text x="414.0" y="1950.5" font-family="Liberation Sans, sans-serif" font-size="24.0" text-anchor="middle" textLength="15.0" lengthAdjust="spacingAndGlyphs" stroke="#fff" stroke-width="0.20" paint-order="fill stroke"  xml:space="preserve">0</text>
<text x="565.5" y="1950.5" font-family="Liberation Sans, sans-serif" font-size="24.0" text-anchor="middle" textLength="47.0" lengthAdjust="spacingAndGlyphs" stroke="#fff" stroke-width="0.20" paint-order="fill stroke"  xml:space="preserve">60E</text>
<text x="717.0" y="1950.5" font-family="Liberation Sans, sans-serif" font-size="24.0" text-anchor="middle" textLength="61.0" lengthAdjust="spacingAndGlyphs" stroke="#fff" stroke-width="0.20" paint-order="fill stroke"  xml:space="preserve">120E</text>
<text x="868.5" y="1950.5" font-family="Liberation Sans, sans-serif" font-size="24.0" text-anchor="middle" textLength="48.0" lengthAdjust="spacingAndGlyphs" stroke="#fff" stroke-width="0.20" paint-order="fill stroke"  xml:space="preserve">180</text>
<text x="1020.0" y="1950.5" font-family="Liberation Sans, sans-serif" font-size="24.0" text-anchor="middle" textLength="66.5" lengthAdjust="spacingAndGlyphs" stroke="#fff" stroke-width="0.20" paint-order="fill stroke"  xml:space="preserve">120W</text>
<text x="1171.5" y="1950.5" font-family="Liberation Sans, sans-serif" font-size="24.0" text-anchor="middle" textLength="52.0" lengthAdjust="spacingAndGlyphs" stroke="#fff" stroke-width="0.20" paint-order="fill stroke"  xml:space="preserve">60W</text>
<text x="411.8" y="1511.9" font-family="Liberation Sans, sans-serif" font-size="28.0" text-anchor="start" textLength="110.4" lengthAdjust="spacingAndGlyphs" stroke="#fff" stroke-width="0.50" paint-order="fill stroke"  xml:space="preserve">Vertical</text>
<text x="536.8" y="1511.9" font-family="Liberation Sans, sans-serif" font-size="28.0" text-anchor="start" textLength="111.4" lengthAdjust="spacingAndGlyphs" stroke="#fff" stroke-width="0.50" paint-order="fill stroke"  xml:space="preserve">velocity</text>
<text x="1321.8" y="1511.9" font-family="Liberation Sans, sans-serif" font-size="28.0" text-anchor="end" textLength="150.0" lengthAdjust="spacingAndGlyphs" stroke="#fff" stroke-width="0.50" paint-order="fill stroke"  xml:space="preserve">mbar/day</text>
<g transform="translate(292,1718.2) rotate(-90)"><text x="-144.0" y="0.0" font-family="Liberation Sans, sans-serif" font-size="40.0" text-anchor="start" textLength="165.0" lengthAdjust="spacingAndGlyphs" stroke="#fff" stroke-width="1.50" paint-order="fill stroke"  xml:space="preserve">Pressure</text><text x="48.5" y="0.0" font-family="Liberation Sans, sans-serif" font-size="40.0" text-anchor="start" textLength="95.0" lengthAdjust="spacingAndGlyphs" stroke="#fff" stroke-width="1.50" paint-order="fill stroke"  xml:space="preserve">(mb)</text></g>
<g transform="translate(1443,1718.2) rotate(-90)"><text x="-120.0" y="0.0" font-family="Liberation Sans, sans-serif" font-size="40.0" text-anchor="start" textLength="131.0" lengthAdjust="spacingAndGlyphs" stroke="#fff" stroke-width="1.50" paint-order="fill stroke"  xml:space="preserve">Height</text><text x="24.5" y="0.0" font-family="Liberation Sans, sans-serif" font-size="40.0" text-anchor="start" textLength="94.0" lengthAdjust="spacingAndGlyphs" stroke="#fff" stroke-width="1.50" paint-order="fill stroke"  xml:space="preserve">(km)</text></g>
<text x="691.0" y="1971.5" font-family="Liberation Sans, sans-serif" font-size="22.3" text-anchor="start" textLength="38.7" lengthAdjust="spacingAndGlyphs" stroke="#fff" stroke-width="0.20" paint-order="fill stroke"  xml:space="preserve">MIN</text>
<text x="742.3" y="1971.5" font-family="Liberation Sans, sans-serif" font-size="22.3" text-anchor="start" textLength="17.3" lengthAdjust="spacingAndGlyphs" stroke="#fff" stroke-width="0.20" paint-order="fill stroke"  xml:space="preserve">=</text>
<text x="771.8" y="1971.5" font-family="Liberation Sans, sans-serif" font-size="22.3" text-anchor="start" textLength="84.6" lengthAdjust="spacingAndGlyphs" stroke="#fff" stroke-width="0.20" paint-order="fill stroke"  xml:space="preserve">−67.26</text>
<text x="879.0" y="1971.5" font-family="Liberation Sans, sans-serif" font-size="22.3" text-anchor="start" textLength="45.0" lengthAdjust="spacingAndGlyphs" stroke="#fff" stroke-width="0.20" paint-order="fill stroke"  xml:space="preserve">MAX</text>
<text x="936.7" y="1971.5" font-family="Liberation Sans, sans-serif" font-size="22.3" text-anchor="start" textLength="17.3" lengthAdjust="spacingAndGlyphs" stroke="#fff" stroke-width="0.20" paint-order="fill stroke"  xml:space="preserve">=</text>
<text x="976.7" y="1971.5" font-family="Liberation Sans, sans-serif" font-size="22.3" text-anchor="start" textLength="66.3" lengthAdjust="spacingAndGlyphs" stroke="#fff" stroke-width="0.20" paint-order="fill stroke"  xml:space="preserve">37.02</text>
<rect x="418.80" y="1992.9" width="56.04" height="14.3" fill="#00008f" stroke="#000" stroke-width="1.6"/>
<rect x="474.84" y="1992.9" width="56.04" height="14.3" fill="#0019b4" stroke="#000" stroke-width="1.6"/>
<rect x="530.89" y="1992.9" width="56.04" height="14.3" fill="#002ce0" stroke="#000" stroke-width="1.6"/>
<rect x="586.93" y="1992.9" width="56.04" height="14.3" fill="#1c4cff" stroke="#000" stroke-width="1.6"/>
<rect x="642.98" y="1992.9" width="56.04" height="14.3" fill="#4278ff" stroke="#000" stroke-width="1.6"/>
<rect x="699.02" y="1992.9" width="56.04" height="14.3" fill="#82a6ff" stroke="#000" stroke-width="1.6"/>
<rect x="755.06" y="1992.9" width="56.04" height="14.3" fill="#b4ccff" stroke="#000" stroke-width="1.6"/>
<rect x="811.11" y="1992.9" width="56.04" height="14.3" fill="#d6eaff" stroke="#000" stroke-width="1.6"/>
<rect x="867.15" y="1992.9" width="56.04" height="14.3" fill="#ffe9d7" stroke="#000" stroke-width="1.6"/>
<rect x="923.19" y="1992.9" width="56.04" height="14.3" fill="#ffcdb4" stroke="#000" stroke-width="1.6"/>
<rect x="979.24" y="1992.9" width="56.04" height="14.3" fill="#ffaa87" stroke="#000" stroke-width="1.6"/>
<rect x="1035.28" y="1992.9" width="56.04" height="14.3" fill="#ff7d46" stroke="#000" stroke-width="1.6"/>
<rect x="1091.33" y="1992.9" width="56.04" height="14.3" fill="#ff5019" stroke="#000" stroke-width="1.6"/>
<rect x="1147.37" y="1992.9" width="56.04" height="14.3" fill="#e03200" stroke="#000" stroke-width="1.6"/>
<rect x="1203.41" y="1992.9" width="56.04" height="14.3" fill="#b92805" stroke="#000" stroke-width="1.6"/>
<rect x="1259.46" y="1992.9" width="56.04" height="14.3" fill="#8c0000" stroke="#000" stroke-width="1.6"/>
<text x="474.8" y="2031.8" font-family="Liberation Sans, sans-serif" font-size="22.3" text-anchor="middle" textLength="47.0" lengthAdjust="spacingAndGlyphs" stroke="#fff" stroke-width="0.20" paint-order="fill stroke"  xml:space="preserve">−50</text>
<text x="530.9" y="2031.8" font-family="Liberation Sans, sans-serif" font-size="22.3" text-anchor="middle" textLength="47.0" lengthAdjust="spacingAndGlyphs" stroke="#fff" stroke-width="0.20" paint-order="fill stroke"  xml:space="preserve">−40</text>
<text x="586.9" y="2031.8" font-family="Liberation Sans, sans-serif" font-size="22.3" text-anchor="middle" textLength="47.0" lengthAdjust="spacingAndGlyphs" stroke="#fff" stroke-width="0.20" paint-order="fill stroke"  xml:space="preserve">−30</text>
<text x="643.0" y="2031.8" font-family="Liberation Sans, sans-serif" font-size="22.3" text-anchor="middle" textLength="47.0" lengthAdjust="spacingAndGlyphs" stroke="#fff" stroke-width="0.20" paint-order="fill stroke"  xml:space="preserve">−20</text>
<text x="699.0" y="2031.8" font-family="Liberation Sans, sans-serif" font-size="22.3" text-anchor="middle" textLength="47.0" lengthAdjust="spacingAndGlyphs" stroke="#fff" stroke-width="0.20" paint-order="fill stroke"  xml:space="preserve">−15</text>
<text x="755.1" y="2031.8" font-family="Liberation Sans, sans-serif" font-size="22.3" text-anchor="middle" textLength="47.0" lengthAdjust="spacingAndGlyphs" stroke="#fff" stroke-width="0.20" paint-order="fill stroke"  xml:space="preserve">−10</text>
<text x="811.1" y="2031.8" font-family="Liberation Sans, sans-serif" font-size="22.3" text-anchor="middle" textLength="33.0" lengthAdjust="spacingAndGlyphs" stroke="#fff" stroke-width="0.20" paint-order="fill stroke"  xml:space="preserve">−5</text>
<text x="867.2" y="2031.8" font-family="Liberation Sans, sans-serif" font-size="22.3" text-anchor="middle" textLength="14.5" lengthAdjust="spacingAndGlyphs" stroke="#fff" stroke-width="0.20" paint-order="fill stroke"  xml:space="preserve">0</text>
<text x="923.2" y="2031.8" font-family="Liberation Sans, sans-serif" font-size="22.3" text-anchor="middle" textLength="14.5" lengthAdjust="spacingAndGlyphs" stroke="#fff" stroke-width="0.20" paint-order="fill stroke"  xml:space="preserve">5</text>
<text x="979.2" y="2031.8" font-family="Liberation Sans, sans-serif" font-size="22.3" text-anchor="middle" textLength="28.0" lengthAdjust="spacingAndGlyphs" stroke="#fff" stroke-width="0.20" paint-order="fill stroke"  xml:space="preserve">10</text>
<text x="1035.3" y="2031.8" font-family="Liberation Sans, sans-serif" font-size="22.3" text-anchor="middle" textLength="28.0" lengthAdjust="spacingAndGlyphs" stroke="#fff" stroke-width="0.20" paint-order="fill stroke"  xml:space="preserve">15</text>
<text x="1091.3" y="2031.8" font-family="Liberation Sans, sans-serif" font-size="22.3" text-anchor="middle" textLength="28.0" lengthAdjust="spacingAndGlyphs" stroke="#fff" stroke-width="0.20" paint-order="fill stroke"  xml:space="preserve">20</text>
<text x="1147.4" y="2031.8" font-family="Liberation Sans, sans-serif" font-size="22.3" text-anchor="middle" textLength="28.0" lengthAdjust="spacingAndGlyphs" stroke="#fff" stroke-width="0.20" paint-order="fill stroke"  xml:space="preserve">30</text>
<text x="1203.4" y="2031.8" font-family="Liberation Sans, sans-serif" font-size="22.3" text-anchor="middle" textLength="28.0" lengthAdjust="spacingAndGlyphs" stroke="#fff" stroke-width="0.20" paint-order="fill stroke"  xml:space="preserve">40</text>
<text x="1259.5" y="2031.8" font-family="Liberation Sans, sans-serif" font-size="22.3" text-anchor="middle" textLength="28.0" lengthAdjust="spacingAndGlyphs" stroke="#fff" stroke-width="0.20" paint-order="fill stroke"  xml:space="preserve">50</text>
</svg></body></html>
